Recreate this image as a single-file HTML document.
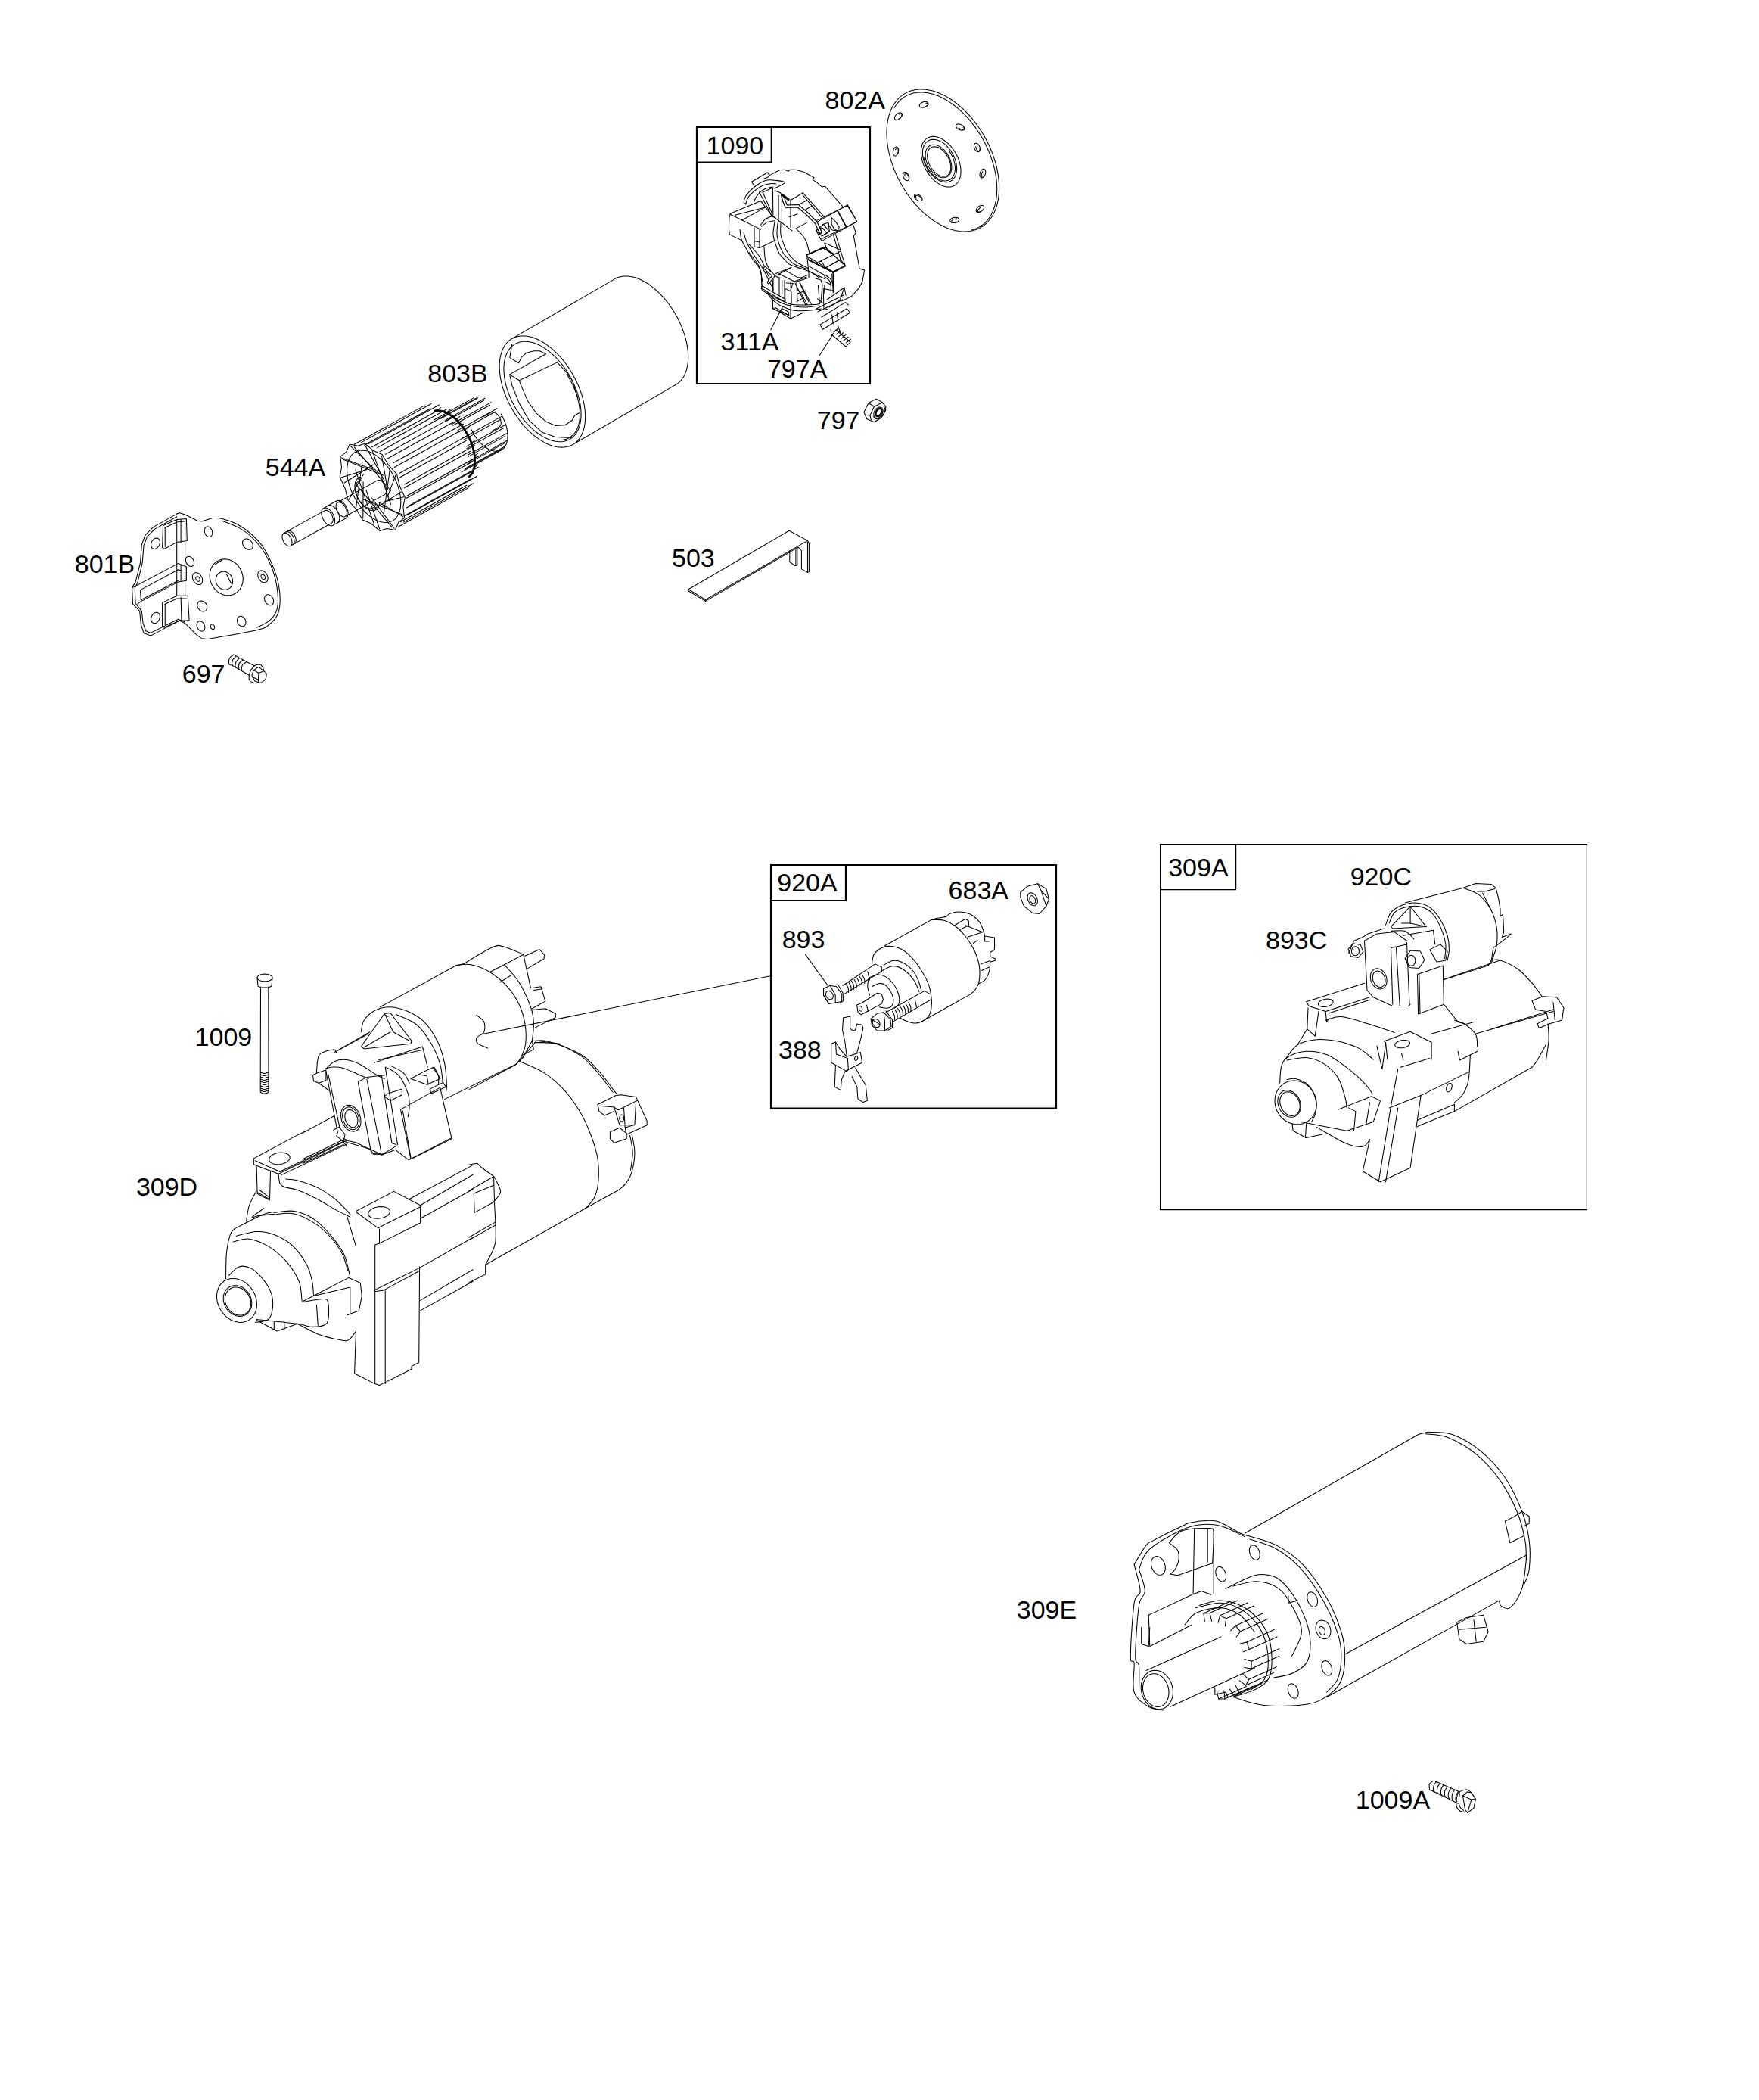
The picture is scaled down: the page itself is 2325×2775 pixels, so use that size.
<!DOCTYPE html>
<html><head><meta charset="utf-8"><style>
html,body{margin:0;padding:0;background:#fff;}
svg{display:block;}
text{font-family:"Liberation Sans",sans-serif;font-size:34px;fill:#000;}
.l{fill:none;stroke:#000;stroke-width:1.05;stroke-linejoin:round;stroke-linecap:round;}
.b{fill:none;stroke:#000;stroke-width:2.2;}
.t{fill:none;stroke:#000;stroke-width:1.2;}
</style></head><body>
<svg width="2325" height="2775" viewBox="0 0 2325 2775">
<text x="1090.5" y="144">802A</text>
<text x="933.6" y="204">1090</text>
<text x="952.6" y="463">311A</text>
<text x="1013.9" y="499">797A</text>
<text x="1079.8" y="567">797</text>
<text x="565.3" y="505">803B</text>
<text x="350.8" y="629">544A</text>
<text x="98.8" y="757">801B</text>
<text x="240.8" y="901.5">697</text>
<text x="888" y="749">503</text>
<text x="1027.3" y="1178">920A</text>
<text x="1253.6" y="1188">683A</text>
<text x="1033.7" y="1253">893</text>
<text x="1029" y="1399">388</text>
<text x="257.6" y="1382">1009</text>
<text x="179.9" y="1580">309D</text>
<text x="1544.2" y="1158">309A</text>
<text x="1784.7" y="1170">920C</text>
<text x="1673" y="1254">893C</text>
<text x="1343.8" y="2139">309E</text>
<text x="1791.8" y="2390">1009A</text>
<path class="b" d="M921 168H1150V507H921Z M921 214.6H1019.8V168"/>
<path class="b" d="M1019 1143H1396V1464.5H1019Z M1019 1190H1118V1143"/>
<path class="t" d="M1533.6 1115.6H2097.4V1598.6H1533.6Z M1533.6 1175.6H1633.6V1115.6"/>
<!-- 10_802A.svg -->
<path class="l" d="M1295.9 300.8 1293.7 301.9 1291.4 302.9 1289 303.8 1286.6 304.5 1284.1 305.1 1281.5 305.6 1278.9 305.8 1276.3 306 1273.5 306 1270.8 305.8 1268 305.5 1265.2 305.1 1262.3 304.5 1259.4 303.8 1256.5 302.9 1253.6 301.9 1250.7 300.7 1247.8 299.4 1244.8 298 1241.9 296.4 1239 294.7 1236 292.9 1233.1 291 1230.3 288.9 1227.4 286.7 1224.6 284.4 1221.8 281.9 1219 279.4 1216.3 276.8 1213.7 274 1211 271.2 1208.5 268.3 1206 265.2 1203.6 262.1 1201.2 259 1198.9 255.7 1196.7 252.4 1194.5 249 1192.5 245.5 1190.5 242.1 1188.6 238.5 1186.8 234.9 1185.1 231.3 1183.4 227.7 1181.9 224 1180.5 220.3 1179.2 216.6 1178 212.9 1176.9 209.2 1175.9 205.4 1175 201.7 1174.2 198.1 1173.6 194.4 1173 190.8 1172.6 187.2 1172.3 183.6 1172.1 180.1 1172 176.6 1172 173.2 1172.2 169.8 1172.4 166.6 1172.8 163.3 1173.3 160.2 1173.9 157.1 1174.6 154.2 1175.4 151.3 1176.4 148.5 1177.4 145.8 1178.6 143.2 1179.8 140.7 1181.2 138.4 1182.7 136.1 1184.3 134 1185.9 132 1187.7 130.1 1189.5 128.3 1191.5 126.7 1193.5 125.2 1195.6 123.9 1197.8 122.6 1200.1 121.5 1202.4 120.6 1204.8 119.8 1207.3 119.2 1209.8 118.6 1212.4 118.3 1215 118.1 1217.7 118 1220.4 118.1 1223.2 118.3 1226 118.7 1228.9 119.2 1231.7 119.8 1234.6 120.6 1237.5 121.6 1240.4 122.7 1243.4 123.9 1246.3 125.3 1249.3 126.8 1252.2 128.4 1255.1 130.2 1258 132 1260.9 134.1 1263.8 136.2 1266.6 138.5 1269.4 140.8 1272.2 143.3 1274.9 145.9 1277.6 148.6 1280.3 151.4 1282.8 154.3 1285.4 157.2 1287.8 160.3 1290.2 163.4 1292.6 166.7 1294.8 170 1297 173.3 1299.1 176.7 1301.2 180.2 1303.1 183.7 1304.9 187.3 1306.7 190.9 1308.4 194.5 1309.9 198.2 1311.4 201.9 1312.8 205.6 1314 209.3 1315.2 213 1316.2 216.7 1317.2 220.4 1318 224.1 1318.7 227.8 1319.3 231.4 1319.8 235 1320.2 238.6 1320.5 242.2 1320.6 245.7 1320.6 249.1 1320.5 252.5 1320.3 255.8 1320 259.1 1319.6 262.2 1319 265.3 1318.4 268.4 1317.6 271.3 1316.7 274.1 1315.7 276.9 1314.6 279.5 1313.4 282 1312.1 284.5 1310.7 286.8 1309.1 289 1307.5 291 1305.8 293 1304 294.8 1302.1 296.5 1300.1 298.1 1298.1 299.5 1295.9 300.8Z"/>
<path class="l" d="M1182.1 142.3 1183.6 140 1185.1 137.8 1186.7 135.8 1188.4 133.9 1190.2 132.1 1192.1 130.5 1194.1 129 1196.2 127.6 1198.3 126.4 1200.6 125.3 1202.9 124.4 1205.3 123.6 1207.7 123 1210.2 122.5 1212.8 122.2 1215.4 122 1218.1 122 1220.8 122.1 1223.6 122.4 1226.4 122.8 1229.2 123.4 1232.1 124.1 1235 125 1237.9 126 1240.8 127.1 1243.7 128.5 1246.7 129.9 1249.6 131.5 1252.5 133.2 1255.4 135.1 1258.3 137.1 1261.2 139.2 1264 141.4 1266.8 143.8 1269.6 146.3 1272.4 148.8 1275.1 151.5 1277.7 154.3 1280.3 157.2 1282.8 160.2 1285.3 163.3 1287.7 166.4 1290.1 169.7 1292.3 173 1294.5 176.4 1296.7 179.8 1298.7 183.3 1300.6 186.8 1302.5 190.4 1304.2 194 1305.9 197.7 1307.4 201.4 1308.9 205.1 1310.2 208.8 1311.5 212.5 1312.6 216.3 1313.6 220 1314.6 223.7 1315.4 227.4 1316 231.1 1316.6 234.7 1317.1 238.3 1317.4 241.9 1317.6 245.4 1317.7 248.9 1317.7 252.3 1317.5 255.6 1317.2 258.9 1316.9 262.1 1316.4 265.2 1315.7 268.2 1315 271.2 1314.2 274 1313.2 276.8 1312.1 279.4 1310.9 282 1309.7 284.4 1308.3 286.7 1306.8 288.9 1305.2 290.9 1303.5 292.8 1301.7 294.6 1299.8 296.3 1297.8 297.8 1295.7 299.2 1293.6 300.4 1291.3 301.5 1289 302.5 1286.7 303.3 1284.2 303.9"/>
<path class="l" d="M1261.3 245.2 1259 246.2 1256.5 246.9 1253.8 247.1 1251 246.9 1248.2 246.2 1245.2 245.2 1242.3 243.7 1239.3 241.9 1236.4 239.8 1233.6 237.3 1231 234.5 1228.5 231.4 1226.2 228.1 1224.1 224.7 1222.2 221.1 1220.6 217.4 1219.3 213.7 1218.4 209.9 1217.7 206.2 1217.4 202.6 1217.4 199.2 1217.7 195.9 1218.3 192.9 1219.3 190.1 1220.6 187.6 1222.2 185.4 1224 183.6 1226.1 182.2 1228.4 181.2 1230.9 180.5 1233.6 180.3 1236.4 180.5 1239.2 181.2 1242.2 182.2 1245.1 183.7 1248.1 185.5 1251 187.6 1253.8 190.1 1256.4 192.9 1258.9 196 1261.2 199.3 1263.3 202.7 1265.2 206.3 1266.8 210 1268.1 213.7 1269 217.5 1269.7 221.2 1270 224.8 1270 228.2 1269.7 231.5 1269.1 234.5 1268.1 237.3 1266.8 239.8 1265.2 242 1263.4 243.8 1261.3 245.2Z"/>
<path class="l" d="M1256.9 239.1 1254.5 240.2 1251.9 240.7 1249.1 240.7 1246.1 240.3 1243.1 239.3 1240.1 237.8 1237.1 236 1234.2 233.6 1231.5 230.9 1228.9 227.9 1226.6 224.6 1224.5 221.1 1222.7 217.5 1221.3 213.7 1220.3 209.9 1219.6 206.2 1219.4 202.6 1219.5 199.1 1220.1 195.9 1221 193 1222.4 190.5 1224 188.3 1226 186.6 1228.3 185.3 1230.8 184.5 1233.5 184.2 1236.4 184.4 1239.4 185.2 1242.4 186.4 1245.4 188 1248.3 190.2 1251.2 192.7 1253.8 195.5 1256.3 198.7 1258.5 202.1 1260.4 205.7 1262 209.4 1263.2 213.2 1264.1 217 1264.5 220.6 1264.6 224.2 1264.2 227.5 1263.5 230.6 1262.3 233.3 1260.8 235.7 1259 237.6 1256.9 239.1Z"/>
<path class="l" d="M1254.6 199.5 1256.8 202.9 1258.6 206.5 1260.2 210.2 1261.3 214 1262.1 217.7 1262.5 221.3 1262.4 224.7 1261.9 227.9 1261 230.8 1259.7 233.3 1258 235.4 1256 237 1253.7 238.2 1251.2 238.8 1248.4 238.9 1245.6 238.4 1242.6 237.4 1239.6 236 1236.7 234 1233.8 231.6 1231.1 228.9 1228.7 225.8 1226.4 222.4 1224.5 218.8 1222.9 215.1 1221.7 211.4 1220.9 207.7"/>
<path class="l" d="M1252 233.5 1249.5 234.5 1246.8 234.8 1243.9 234.4 1240.9 233.4 1237.8 231.8 1234.9 229.6 1232.1 226.9 1229.6 223.8 1227.4 220.3 1225.6 216.6 1224.3 212.9 1223.4 209.1 1223.1 205.4 1223.3 202 1224 198.9 1225.2 196.2 1226.9 194.1 1229 192.5 1231.5 191.5 1234.2 191.2 1237.1 191.6 1240.1 192.6 1243.2 194.2 1246.1 196.4 1248.9 199.1 1251.4 202.2 1253.6 205.7 1255.4 209.4 1256.7 213.1 1257.6 216.9 1257.9 220.6 1257.7 224 1257 227.1 1255.8 229.8 1254.1 231.9 1252 233.5Z"/>
<path class="l" d="M1251.7 232.3 1249.3 233.1 1246.7 233.3 1243.8 232.8 1240.8 231.5 1237.9 229.6 1235.1 227.2 1232.5 224.2 1230.2 220.8 1228.3 217.2 1226.9 213.4 1226 209.7 1225.6 206.1 1225.8 202.7 1226.6 199.8 1227.9 197.3 1229.7 195.4 1231.9 194.2 1234.4 193.7 1237.2 193.9 1240.1 194.8 1243 196.3 1245.9 198.5 1248.7 201.3 1251.1 204.5 1253.2 208 1254.9 211.7 1256 215.4 1256.7 219.1 1256.7 222.6 1256.3 225.8 1255.2 228.5 1253.7 230.7 1251.7 232.3Z"/>
<path class="l" d="M1226.8 136.4 1226.9 137.3 1226.6 138.3 1225.9 139.3 1224.9 140.3 1223.7 141.1 1222.3 141.7 1220.8 142.1 1219.3 142.2 1217.9 142.1 1216.8 141.7 1215.9 141.1 1215.4 140.2 1215.3 139.3 1215.6 138.3 1216.3 137.3 1217.3 136.3 1218.5 135.5 1219.9 134.9 1221.4 134.5 1222.9 134.4 1224.3 134.5 1225.4 134.9 1226.3 135.5 1226.8 136.4Z"/>
<path class="l" d="M1223.8 136.2 1224.9 136.2 1225.8 136.4 1226.5 136.7 1226.8 137.2 1226.9 137.8 1226.6 138.4 1225.9 139.1 1225.1 139.8 1224 140.4 1222.8 140.9 1221.6 141.2 1220.4 141.4"/>
<path class="l" d="M1191.6 149.4 1192.1 150.2 1192.3 151.3 1192.2 152.5 1191.7 153.8 1191 155 1190 156.2 1188.8 157.2 1187.5 158 1186.2 158.5 1185 158.7 1184 158.5 1183.2 158 1182.7 157.2 1182.5 156.1 1182.6 154.9 1183.1 153.6 1183.8 152.4 1184.8 151.2 1186 150.2 1187.3 149.4 1188.6 148.9 1189.8 148.7 1190.8 148.9 1191.6 149.4Z"/>
<path class="l" d="M1188.8 151.1 1189.8 150.6 1190.7 150.3 1191.4 150.4 1191.9 150.6 1192.2 151.2 1192.2 151.9 1192 152.8 1191.5 153.8 1190.8 154.8 1190 155.7 1189 156.6 1188 157.3"/>
<path class="l" d="M1274.4 170.8 1273.8 171.5 1272.9 172 1271.7 172.2 1270.3 172.1 1268.9 171.8 1267.4 171.2 1266.1 170.4 1265 169.4 1264.2 168.3 1263.7 167.2 1263.5 166.2 1263.8 165.2 1264.4 164.5 1265.3 164 1266.5 163.8 1267.9 163.9 1269.3 164.2 1270.8 164.8 1272.1 165.6 1273.2 166.6 1274 167.7 1274.5 168.8 1274.7 169.8 1274.4 170.8Z"/>
<path class="l" d="M1273.2 168 1274 168.7 1274.5 169.5 1274.7 170.2 1274.5 170.8 1274.1 171.2 1273.4 171.5 1272.5 171.5 1271.4 171.3 1270.3 171 1269.1 170.5 1268 169.8 1267 169"/>
<path class="l" d="M1185.1 194.1 1186 194.5 1186.8 195.2 1187.3 196.3 1187.6 197.6 1187.7 199.1 1187.5 200.7 1187.1 202.2 1186.5 203.5 1185.7 204.6 1184.8 205.4 1183.8 205.9 1182.9 205.9 1182 205.5 1181.2 204.8 1180.7 203.7 1180.4 202.4 1180.3 200.9 1180.5 199.3 1180.9 197.8 1181.5 196.5 1182.3 195.4 1183.2 194.6 1184.2 194.1 1185.1 194.1Z"/>
<path class="l" d="M1183.6 197.7 1184.1 196.7 1184.7 196 1185.4 195.6 1185.9 195.6 1186.5 195.9 1186.9 196.5 1187.2 197.3 1187.3 198.4 1187.3 199.6 1187.2 200.9 1186.8 202.2 1186.4 203.3"/>
<path class="l" d="M1293.5 200.5 1292.6 200.6 1291.6 200.4 1290.5 199.8 1289.5 198.8 1288.7 197.6 1288 196.2 1287.6 194.7 1287.4 193.2 1287.5 191.8 1287.9 190.7 1288.5 189.8 1289.3 189.3 1290.2 189.2 1291.2 189.4 1292.3 190 1293.3 191 1294.1 192.2 1294.8 193.6 1295.2 195.1 1295.4 196.6 1295.3 198 1294.9 199.1 1294.3 200 1293.5 200.5Z"/>
<path class="l" d="M1295.1 197.1 1295.1 198.2 1295 199.1 1294.6 199.7 1294.2 200.1 1293.6 200.1 1292.9 199.8 1292.2 199.3 1291.5 198.4 1290.9 197.4 1290.3 196.2 1290 194.9 1289.7 193.7"/>
<path class="l" d="M1195.3 227.6 1196.2 227.4 1197.3 227.6 1198.3 228.2 1199.4 229.1 1200.3 230.3 1201 231.7 1201.5 233.1 1201.8 234.6 1201.7 236 1201.4 237.1 1200.9 238 1200.1 238.6 1199.2 238.8 1198.1 238.6 1197.1 238 1196 237.1 1195.1 235.9 1194.4 234.5 1193.9 233.1 1193.6 231.6 1193.7 230.2 1194 229.1 1194.5 228.2 1195.3 227.6Z"/>
<path class="l" d="M1196 232.1 1195.9 231 1196 230.1 1196.3 229.4 1196.7 229 1197.3 228.9 1198 229.2 1198.7 229.7 1199.5 230.5 1200.1 231.6 1200.7 232.7 1201.2 233.9 1201.4 235.1"/>
<path class="l" d="M1297 234.8 1296.2 234.3 1295.6 233.5 1295.2 232.3 1295 231 1295.1 229.5 1295.5 228 1296.1 226.5 1296.9 225.3 1297.8 224.3 1298.8 223.6 1299.8 223.3 1300.8 223.4 1301.6 223.9 1302.2 224.7 1302.6 225.9 1302.8 227.2 1302.7 228.7 1302.3 230.2 1301.7 231.7 1300.9 232.9 1300 233.9 1299 234.6 1298 234.9 1297 234.8Z"/>
<path class="l" d="M1300.9 232.6 1300.3 233.4 1299.6 234.1 1298.9 234.4 1298.4 234.4 1297.9 234 1297.5 233.4 1297.3 232.5 1297.3 231.4 1297.5 230.2 1297.8 228.9 1298.3 227.7 1298.9 226.6"/>
<path class="l" d="M1208.7 257.8 1209.4 257.1 1210.4 256.7 1211.6 256.6 1212.9 256.8 1214.3 257.3 1215.7 258.1 1216.9 259.1 1217.9 260.2 1218.6 261.3 1219 262.5 1219 263.5 1218.7 264.4 1218 265.1 1217 265.5 1215.8 265.6 1214.5 265.4 1213.1 264.9 1211.7 264.1 1210.5 263.1 1209.5 262 1208.8 260.9 1208.4 259.7 1208.4 258.7 1208.7 257.8Z"/>
<path class="l" d="M1211.6 261.8 1210.9 260.9 1210.5 260.1 1210.4 259.4 1210.5 258.8 1211 258.5 1211.7 258.3 1212.6 258.3 1213.7 258.6 1214.8 259.1 1215.9 259.8 1217 260.5 1217.8 261.4"/>
<path class="l" d="M1290.6 279.7 1290.2 278.8 1290.2 277.7 1290.5 276.6 1291.1 275.4 1292.1 274.2 1293.2 273.1 1294.5 272.3 1295.9 271.7 1297.2 271.4 1298.4 271.4 1299.4 271.7 1300.2 272.3 1300.6 273.2 1300.6 274.3 1300.3 275.4 1299.7 276.6 1298.7 277.8 1297.6 278.9 1296.3 279.7 1294.9 280.3 1293.6 280.6 1292.4 280.6 1291.4 280.3 1290.6 279.7Z"/>
<path class="l" d="M1295.6 279.5 1294.5 279.9 1293.6 280 1292.9 279.9 1292.4 279.5 1292.2 279 1292.3 278.3 1292.6 277.4 1293.3 276.5 1294.1 275.6 1295.1 274.8 1296.1 274 1297.2 273.5"/>
<path class="l" d="M1255.8 292 1255.8 291.1 1256.3 290.1 1257 289.2 1258.2 288.4 1259.5 287.8 1261 287.4 1262.6 287.2 1264 287.3 1265.4 287.6 1266.5 288.1 1267.2 288.9 1267.6 289.8 1267.6 290.7 1267.1 291.7 1266.4 292.6 1265.2 293.4 1263.9 294 1262.4 294.4 1260.8 294.6 1259.4 294.5 1258 294.2 1256.9 293.7 1256.2 292.9 1255.8 292Z"/>
<path class="l" d="M1260.6 293.7 1259.5 293.6 1258.7 293.3 1258.1 292.9 1257.8 292.4 1257.9 291.8 1258.2 291.1 1258.9 290.6 1259.9 290 1261 289.6 1262.3 289.2 1263.6 289.1 1264.8 289.1"/>
<!-- 11_803B.svg -->
<path class="l" d="M757.1 587.5 755.1 588.5 752.9 589.4 750.7 590.1 748.4 590.6 746 591 743.5 591.1 741 591.1 738.4 590.9 735.8 590.5 733.1 590 730.3 589.2 727.6 588.3 724.8 587.2 722 585.9 719.1 584.4 716.3 582.8 713.5 581.1 710.7 579.1 707.9 577 705.1 574.8 702.3 572.4 699.6 569.9 696.9 567.3 694.3 564.5 691.7 561.6 689.2 558.6 686.8 555.5 684.4 552.3 682.2 549.1 680 545.7 677.9 542.3 675.9 538.8 674 535.2 672.2 531.7 670.5 528 668.9 524.4 667.5 520.7 666.1 517.1 664.9 513.4 663.8 509.7 662.9 506.1 662.1 502.5 661.4 498.9 660.9 495.4 660.5 491.9 660.3 488.5 660.1 485.1 660.2 481.9 660.3 478.7 660.7 475.6 661.1 472.7 661.7 469.8 662.4 467.1 663.3 464.5 664.3 462 665.4 459.6 666.7 457.4 668 455.4 669.5 453.5 671.2 451.8 672.9 450.2 674.7 448.8 676.7 447.5 678.7 446.5 680.9 445.6 683.1 444.9 685.4 444.4 687.8 444 690.3 443.9 692.8 443.9 695.4 444.1 698 444.5 700.7 445 703.5 445.8 706.2 446.7 709 447.8 711.8 449.1 714.7 450.6 717.5 452.2 720.3 453.9 723.1 455.9 725.9 458 728.7 460.2 731.5 462.6 734.2 465.1 736.9 467.7 739.5 470.5 742.1 473.4 744.6 476.4 747 479.5 749.4 482.7 751.6 485.9 753.8 489.3 755.9 492.7 757.9 496.2 759.8 499.8 761.6 503.3 763.3 507 764.9 510.6 766.3 514.3 767.7 517.9 768.9 521.6 770 525.3 770.9 528.9 771.7 532.5 772.4 536.1 772.9 539.6 773.3 543.1 773.5 546.5 773.7 549.9 773.6 553.1 773.5 556.3 773.1 559.4 772.7 562.3 772.1 565.2 771.4 567.9 770.5 570.5 769.5 573 768.4 575.4 767.1 577.6 765.8 579.6 764.3 581.5 762.6 583.2 760.9 584.8 759.1 586.2 757.1 587.5Z M812.6 368.6 814.6 367.5 816.7 366.6 819 365.9 821.3 365.4 823.7 365 826.1 364.9 828.7 364.9 831.3 365.1 833.9 365.5 836.6 366 839.3 366.8 842.1 367.7 844.9 368.8 847.7 370 850.5 371.5 853.3 373.1 856.2 374.8 859 376.8 861.8 378.9 864.6 381.1 867.3 383.5 870.1 386 872.7 388.6 875.4 391.4 877.9 394.2 880.4 397.2 882.9 400.3 885.2 403.5 887.5 406.8 889.7 410.1 891.8 413.6 893.8 417 895.8 420.6 897.6 424.2 899.2 427.8 900.8 431.4 902.3 435.1 903.6 438.8 904.8 442.4 905.9 446.1 906.8 449.7 907.7 453.4 908.3 456.9 908.9 460.5 909.3 463.9 909.5 467.4 909.7 470.7 909.6 474 909.5 477.1 909.2 480.2 908.7 483.2 908.1 486 907.4 488.8 906.6 491.4 905.6 493.9 904.5 496.2 903.2 498.5 901.8 500.5 900.3 502.4 898.7 504.2 897 505.7 895.2 507.2 893.2 508.4 M676.6 447.6 L812.6 368.6 M757.2 587.4 L893.2 508.4"/>
<path class="l" d="M753.2 580.4 751.1 581.5 749 582.3 746.8 583 744.4 583.4 742 583.7 739.5 583.8 737 583.6 734.3 583.3 731.7 582.7 728.9 582 726.2 581 723.4 579.9 720.6 578.6 717.8 577.1 715 575.4 712.2 573.5 709.4 571.5 706.6 569.3 703.9 566.9 701.2 564.4 698.5 561.8 695.9 559 693.4 556.1 690.9 553.1 688.5 549.9 686.2 546.7 684 543.4 681.9 540 680 536.5 678.1 533 676.3 529.4 674.7 525.8 673.2 522.2 671.8 518.5 670.5 514.9 669.4 511.2 668.5 507.6 667.7 504 667 500.4 666.5 496.9 666.2 493.5 666 490.1 665.9 486.8 666 483.7 666.3 480.6 666.7 477.6 667.3 474.7 668 472 668.9 469.4 669.9 467 671.1 464.7 672.4 462.6 673.8 460.6 675.4 458.8 677.1 457.2 678.9 455.8 680.8 454.6 682.9 453.5 685 452.7 687.2 452 689.6 451.6 692 451.3 694.5 451.2 697 451.4 699.7 451.7 702.3 452.3 705.1 453 707.8 454 710.6 455.1 713.4 456.4 716.2 457.9 719 459.6 721.8 461.5 724.6 463.5 727.4 465.7 730.1 468.1 732.8 470.6 735.5 473.2 738.1 476 740.6 478.9 743.1 481.9 745.5 485.1 747.8 488.3 750 491.6 752.1 495 754 498.5 755.9 502 757.7 505.6 759.3 509.2 760.8 512.8 762.2 516.5 763.5 520.1 764.6 523.8 765.5 527.4 766.3 531 767 534.6 767.5 538.1 767.8 541.5 768 544.9 768.1 548.2 768 551.3 767.7 554.4 767.3 557.4 766.7 560.3 766 563 765.1 565.6 764.1 568 762.9 570.3 761.6 572.4 760.2 574.4 758.6 576.2 756.9 577.8 755.1 579.2 753.2 580.4Z"/>
<path class="l" d="M749.2 494.5 751.3 497.9 753.3 501.4 755.2 505 757 508.6 758.6 512.2 760.1 515.9 761.5 519.6 762.7 523.3 763.7 527 764.6 530.6 765.3 534.2 765.9 537.7 766.3 541.2 766.5 544.6 766.6 548 766.4 551.2 766.2 554.3 765.7 557.3 765.1 560.1 764.4 562.8 763.4 565.4 762.4 567.8 761.1 570 759.7 572 758.2 573.9 756.5 575.5 754.7 577 752.8 578.3 750.8 579.3 748.6 580.2 746.4 580.8 744 581.3 741.6 581.5 739 581.5"/>
<path class="l" d="M673.7 494.9 721.4 467.8"/>
<path class="l" d="M686.4 502.8 736.5 478.9"/>
<path class="l" d="M673.7 494.9 686.4 502.8"/>
<path class="l" d="M686.4 502.8 688 507.6 697.5 529.9 708.7 545.8 721.4 556.9 734.1 562.5 746.9 561.7 756.4 555.3 759.6 549 766.8 545"/>
<path class="l" d="M676.8 455.1 673.7 472.6 685.6 479.7 688.8 472.6 695.9 466.2 705.5 463.8 713.4 463.8 721.4 467.8"/>
<path class="l" d="M736.5 478.9 748.5 491.7 756.4 502.8 763.6 525.1"/>
<path class="l" d="M673.7 494.9 676.8 509.2 686.4 533.1 699.1 555.3 716.6 571.3 734.1 577.6 754.8 578.4"/>
<!-- 12_1090.svg -->
<path class="l" d="M1017 231.6 1030.5 224.8 1037.3 224.3 1042.1 226.3 1044.1 224.3 1051.8 224.3 1062.4 227.2 1075.9 234.5 1074 237.4 1078.8 240.3 1086.6 247.1 1090.4 246.1 1113.6 272.7"/>
<path class="l" d="M994.3 239.8 1012.2 229.2 1014.6 227.7 1017 231.6 1015.1 234 1010.2 235.9"/>
<path class="l" d="M994.3 239.8 994.3 241.7 996.2 244.2"/>
<path class="l" d="M986.1 269.3 C985.6 269 983.2 269.1 983.2 267.3 C983.2 265.6 984.2 261.7 986.1 258.6 C988 255.6 991.4 252 994.8 249 C998.2 246 1003.2 242.6 1006.4 240.8 C1009.6 238.9 1010.9 238.3 1014.1 237.9 C1017.3 237.5 1021.8 237.8 1025.7 238.4 C1029.6 238.9 1037.6 239.5 1037.3 241.3 C1037 243 1026 247.7 1023.8 249"/>
<path class="l" d="M985.6 270.2 C986.2 268.6 987 263.6 989 260.6 C991 257.5 994.5 254.5 997.7 251.9 C1000.9 249.3 1004.9 246.7 1008.3 245.1 C1011.7 243.6 1015.1 243.1 1018 242.7 C1020.9 242.3 1024.4 242.7 1025.7 242.7"/>
<path class="l" d="M996.7 266.4 C997.4 265.1 998.3 261.4 1000.6 258.6 C1002.8 255.9 1006.7 251.9 1010.2 250 C1013.8 248 1019.9 247.5 1021.8 247.1"/>
<path class="l" d="M1007.8 254.3 1018 249.5 1021.4 248 1021.8 285.7"/>
<path class="l" d="M1003.5 253.8 1019.9 284.7"/>
<path class="l" d="M1008.3 254.3 1020.9 282.8"/>
<path class="l" d="M1029.1 258.2 1029.1 293.4"/>
<path class="l" d="M1033.4 257.7 1033.4 294.4"/>
<path class="l" d="M965.3 282.3 1005.4 265.4 1007.3 265.9"/>
<path class="l" d="M971.6 284.3 1011.2 274.1"/>
<path class="l" d="M980.8 291 1011.2 274.1"/>
<path class="l" d="M965.3 283.3 1005.4 303.1"/>
<path class="l" d="M1005.4 265.4 1019.9 284.7 1033.4 294.4 1047 305"/>
<path class="l" d="M965.3 282.3 963.9 287.6 963.4 302.1 964.3 309.9 980.3 317.6"/>
<path class="l" d="M1046 264 1061.4 254.8"/>
<path class="l" d="M1061.4 254.8 1089.5 286.7"/>
<path class="l" d="M1061.4 258.2 1085.6 286.7"/>
<path class="l" d="M1055.2 270.7 1066.3 264.9"/>
<path class="l" d="M1062.4 278.5 1073 272.2"/>
<path class="l" d="M1045 263.5 1045 300.2"/>
<path class="l" d="M1043.1 286.7 1054.2 282.8"/>
<path class="l" d="M1051.8 302.1 1066.3 294.4"/>
<path class="l" d="M1079.8 293.4 1120.4 270.7"/>
<path class="l" d="M1120.4 270.7 1130 287.6"/>
<path class="l" d="M1106.9 278.9 1118.5 300.2"/>
<path class="l" d="M1085.6 315.7 1130 294.4"/>
<path class="l" d="M1094.3 290.5 1095.3 297.3 1100.1 304.1 1106.9 305"/>
<path class="l" d="M1099.1 287.6 1104.9 293.4 1109.3 300.2 1106.9 305 1102 302.1 1099.1 295.4 1099.1 287.6"/>
<path class="l" d="M1078.8 305 1088.5 296.3 1096.2 306 1086.6 311.8 1078.8 305"/>
<path class="l" d="M1024.7 251.9 1031.5 254.8 1033.4 257.7"/>
<path class="l" d="M1005.4 297.3 1011.2 289.6 1019.9 285.7 1024.7 287.6"/>
<path class="l" d="M1006.4 299.2 1014.1 293.4 1024.7 291.5"/>
<path class="l" d="M1034.4 258.6 1036.3 265.4 1039.2 272.7 1054.7 272.2 1066.3 281.8 1078.8 294.4 1084.6 307" style="stroke:#000;stroke-width:4.5"/>
<path class="l" d="M1034.4 258.6 1036.3 265.4 1039.2 272.7 1054.7 272.2 1066.3 281.8 1078.8 294.4 1084.6 307" style="stroke:#fff;stroke-width:2.2;stroke-dasharray:1.6 1.4"/>
<path class="l" d="M1033.4 257.2 1042.1 263.5" style="stroke-width:3"/>
<path class="l" d="M1024 293 C1023.7 295.8 1021.7 304.7 1022 310 C1022.3 315.3 1024.7 320.8 1026 325 C1027.3 329.2 1028 331.8 1030 335 C1032 338.2 1035.5 341.5 1038 344 C1040.5 346.5 1040 347.7 1045 350 C1050 352.3 1064.2 356.7 1068 358"/>
<path class="l" d="M1028 295 C1027.8 297.5 1026.7 305.3 1027 310 C1027.3 314.7 1028.7 319 1030 323 C1031.3 327 1032.8 330.7 1035 334 C1037.2 337.3 1040.5 340.5 1043 343 C1045.5 345.5 1045.8 346.8 1050 349 C1054.2 351.2 1065 354.8 1068 356"/>
<path class="l" d="M1032 294 C1032 296.7 1031.3 305.2 1032 310 C1032.7 314.8 1034.7 319.3 1036 323 C1037.3 326.7 1038.2 329 1040 332 C1041.8 335 1044.7 338.5 1047 341 C1049.3 343.5 1050.5 344.8 1054 347 C1057.5 349.2 1065.7 353.2 1068 354.5"/>
<path class="l" d="M1010 326 C1010.3 329.2 1010.3 339.3 1012 345 C1013.7 350.7 1017 356.2 1020 360 C1023 363.8 1028.3 366.7 1030 368"/>
<path class="l" d="M1053 303 C1054.2 304.2 1057.8 307.2 1060 310 C1062.2 312.8 1064.3 315.8 1066 320 C1067.7 324.2 1069.3 332.5 1070 335"/>
<path class="l" d="M1004 303 1004 327.5 1025 317.5"/>
<path class="l" d="M997 301 997 326 1004 327.5"/>
<path class="l" d="M996.5 318.5 1004 320"/>
<path class="l" d="M978 303 C978.3 305.2 978.7 311.8 980 316 C981.3 320.2 983.8 324 986 328 C988.2 332 990.3 336 993 340 C995.7 344 999.8 348.7 1002 352 C1004.2 355.3 1005.2 356 1006 360 C1006.8 364 1006 372.2 1007 376 C1008 379.8 1009.5 380 1012 383 C1014.5 386 1017.8 390.8 1022 394 C1026.2 397.2 1032.3 400.2 1037 402 C1041.7 403.8 1045.2 404.3 1050 405 C1054.8 405.7 1060.5 406.2 1066 406 C1071.5 405.8 1080.2 404.3 1083 404"/>
<path class="l" d="M983 307 C983.7 309.2 985.2 315.7 987 320 C988.8 324.3 991.2 328.3 994 333 C996.8 337.7 1001.3 343.8 1004 348 C1006.7 352.2 1008 354.3 1010 358 C1012 361.7 1014 366 1016 370 C1018 374 1021 380 1022 382"/>
<path class="l" d="M1007 376 C1007.5 376.7 1007.5 377.7 1010 380 C1012.5 382.3 1017.5 386.8 1022 390 C1026.5 393.2 1034.5 397.5 1037 399"/>
<path class="l" d="M1021 394 1021.5 407 1045 421 1062 413"/>
<path class="l" d="M1024 406 1043 417 1042 412 1034 408"/>
<path class="l" d="M1045 400 1045 421"/>
<path class="l" d="M1066.5 336.5 1091 327 1117 351 1101 359 1069 340"/>
<path class="l" d="M1066.5 336.5 1069 360 1069 367"/>
<path class="l" d="M1069 344 1101 360"/>
<path class="l" d="M1083.5 345.5 1111 332"/>
<path class="l" d="M1090 321 1110 330"/>
<path class="l" d="M1101 359 1102 386"/>
<path class="l" d="M1028 363 1045 354"/>
<path class="l" d="M1030 362 1050 372 1066 366"/>
<path class="l" d="M1022 364 1022 390"/>
<path class="l" d="M1030 366 1030 395"/>
<path class="l" d="M1037 370 1037 398"/>
<path class="l" d="M1045 372 1046 400"/>
<path class="l" d="M1053 372 1054 398"/>
<path class="l" d="M1057 374 1069 399"/>
<path class="l" d="M1051 374 1065 403"/>
<path class="l" d="M1054 388 1065 384"/>
<path class="l" d="M1078 368 1085 370 1087 376 1085 400"/>
<path class="l" d="M1090 376 1089 388"/>
<path class="l" d="M1093 396 1116 380 1110 397 1096 406"/>
<path class="l" d="M1116 380 1118 390"/>
<path class="l" d="M1079 408 1115 390"/>
<path class="l" d="M1081 412 1114 396"/>
<path class="l" d="M1090 372 1098 376"/>
<path class="l" d="M1127.2 295.9 1131.2 307.2 1128.4 312.1 1136.1 355 1142.6 357 1140.1 371.2 1135.3 380.9 1125.5 391.5 1112.6 397.9"/>
<path class="l" d="M1101.3 309.7 1111 342.9 1117.4 351.8 1101.3 359.9 1068.9 342.9 1066.4 336.4 1086.7 327.5 1101.3 334.8"/>
<path class="l" d="M1104.5 309.7 1117.4 351.8"/>
<path class="l" d="M1081.8 346.1 1085.9 345.3 1091.5 354.2"/>
<path class="l" d="M1090.7 354.2 1111 342.9"/>
<path class="l" d="M1089.9 321.8 1094 331.5 1098.8 334.8"/>
<path class="l" d="M1068.9 358.3 1090.7 368.8"/>
<path class="l" d="M1099.6 362.3 1101.3 386.6"/>
<path class="l" d="M1089.9 381.7 1098.8 383.4"/>
<path class="l" d="M1080.2 394.7 1086.7 399.6"/>
<path class="l" d="M1083.8 429.1 1119.5 407.7 1123.5 413.3 1087.5 435.2 1083.8 429.1"/>
<path class="l" d="M1085.9 419 1117.4 399.6 1121.5 402.8"/>
<path class="l" d="M1106.1 412.5 1107.7 423.8"/>
<path class="l" d="M1099.6 415.7 1101.3 427.9"/>
<path class="l" d="M1098 435.2 1098.8 440"/>
<path class="l" d="M1107.7 431.1 1111 440"/>
<path class="l" d="M1078.6 291.9 1119.9 271.6 1132.8 292.7 1085.9 318.6 1078.6 304 1078.6 291.9"/>
<path class="l" d="M1107.7 278.9 1119.1 300"/>
<path class="l" d="M1078.6 304 1086.7 300.8 1093.2 308.1 1085.9 312.1"/>
<path class="l" d="M1086.7 296.7 1094.8 294.3 1096.4 305.6"/>
<path class="l" d="M1105 436 1124 452 1118 458 1099 442"/>
<path class="l" d="M1102 439 L1108 434"/>
<path class="l" d="M1105.3 441.8 L1111.3 436.8"/>
<path class="l" d="M1108.6 444.6 L1114.6 439.6"/>
<path class="l" d="M1111.9 447.4 L1117.9 442.4"/>
<path class="l" d="M1115.2 450.2 L1121.2 445.2"/>
<path class="l" d="M1118.5 453 L1124.5 448"/>
<path class="l" d="M1018.9 435.5L1034.5 405.2"/>
<path class="l" d="M1083 470L1102 440"/>
<!-- 13_544A.svg -->
<path class="l" d="M384 721.4 382.6 721.8 381 721.5 379.3 720.7 377.6 719.4 376 717.6 374.7 715.5 373.7 713.3 373.1 711 373 708.9 373.2 707 374 705.6 375 704.6 376.4 704.2 378 704.5 379.7 705.3 381.4 706.6 383 708.4 384.3 710.5 385.3 712.7 385.9 715 386 717.1 385.8 719 385 720.4 384 721.4Z M429.2 674.6 430.8 674.2 432.5 674.5 434.4 675.5 436.2 677.1 437.8 679.1 439.1 681.5 439.9 684 440.3 686.4 440.1 688.5 439.4 690.2 438.3 691.3 M375 704.6 L429.2 674.6 M384 721.4 L438.3 691.3"/>
<path class="l" d="M378.1 702.9 379.5 702.5 381.1 702.8 382.8 703.6 384.5 704.9 386 706.7 387.3 708.8 388.3 711 388.9 713.3 389.1 715.4 388.8 717.3 388.1 718.7 387 719.7"/>
<path class="l" d="M380.3 701.7 381.7 701.3 383.3 701.6 385 702.4 386.7 703.7 388.2 705.5 389.5 707.5 390.5 709.8 391.1 712.1 391.3 714.2 391 716.1 390.3 717.5 389.2 718.5"/>
<path class="l" d="M439.9 694.4 438 694.9 435.8 694.6 433.4 693.5 431.1 691.7 429 689.3 427.2 686.4 425.9 683.3 425 680.2 424.8 677.3 425.2 674.7 426.2 672.7 427.6 671.5 429.5 670.9 431.7 671.3 434.1 672.4 436.4 674.2 438.5 676.6 440.3 679.5 441.6 682.5 442.5 685.7 442.7 688.6 442.3 691.1 441.3 693.1 439.9 694.4Z M445.1 661.8 447.2 661.2 449.6 661.7 452.1 663 454.6 665.2 456.8 668 458.5 671.3 459.7 674.7 460.2 678 459.9 680.9 459 683.2 457.4 684.7 M427.6 671.5 L445.1 661.8 M439.9 694.4 L457.4 684.7"/>
<path class="l" d="M433.8 668.1 435.7 667.5 437.9 667.9 440.2 669 442.5 670.8 444.6 673.2 446.4 676.1 447.8 679.1 448.6 682.3 448.8 685.2 448.4 687.7 447.5 689.7 446 691"/>
<path class="l" d="M456.2 682.5 454.6 682.9 452.9 682.7 451 681.8 449.1 680.3 447.4 678.3 446 676 444.9 673.5 444.2 671 444 668.7 444.3 666.6 445.1 665 446.3 664 447.9 663.5 449.6 663.8 451.5 664.7 453.4 666.2 455.1 668.1 456.5 670.4 457.6 672.9 458.3 675.4 458.5 677.8 458.2 679.9 457.4 681.5 456.2 682.5Z M498.8 634.9 500.4 634.4 502.4 634.8 504.4 635.9 506.4 637.7 508.2 639.9 509.6 642.6 510.6 645.3 511 648 510.8 650.3 510 652.2 508.7 653.4 M446.3 664 L498.8 634.9 M456.2 682.5 L508.7 653.4"/>
<path class="l" d="M496.6 666.1 495.5 668.6 494 670.4 492 671.6 489.7 672 487.1 671.7 484.4 670.6 481.7 668.9 479 666.5 476.5 663.7 474.2 660.4 472.4 656.8 471 653.2 470.1 649.5 469.7 646 469.9 642.8 470.6 640 471.8 637.8 473.5 636.2 475.7 635.3 478.1 635.1"/>
<path class="l" d="M501.8 664.6 501.3 667.6 500.3 670.1 498.9 672.1 497.1 673.5 494.9 674.4 492.6 674.7 490 674.3 487.3 673.4 484.5 671.8 481.8 669.7 479.2 667.2 476.7 664.2 474.5 660.9 472.6 657.4 471 653.7 469.9 650 469.2 646.4 468.9 642.9 469.1 639.8 469.8 636.9 470.9 634.5 472.4 632.6 474.3 631.3 476.5 630.5"/>
<path class="l" d="M468.2 587.3 L561 535.9"/>
<path class="l" d="M477.3 584.9 L570 533.5"/>
<path class="l" d="M481.5 588.2 L569 539.7"/>
<path class="l" d="M487.6 586.4 L580.4 535"/>
<path class="l" d="M491.6 590.8 L579.1 542.3"/>
<path class="l" d="M498.7 591.6 L591.4 540.2"/>
<path class="l" d="M502.1 596.8 L589.6 548.3"/>
<path class="l" d="M509.6 600.3 L602.4 548.9"/>
<path class="l" d="M512.2 606 L599.7 557.5"/>
<path class="l" d="M519.7 611.8 L612.4 560.3"/>
<path class="l" d="M521.3 617.5 L608.8 569"/>
<path class="l" d="M528.3 625.3 L621 573.9"/>
<path class="l" d="M528.8 630.8 L616.3 582.3"/>
<path class="l" d="M534.7 640 L627.4 588.5"/>
<path class="l" d="M534.1 644.7 L621.6 596.2"/>
<path class="l" d="M538.6 654.7 L631.3 603.3"/>
<path class="l" d="M536.9 658.5 L624.4 610"/>
<path class="l" d="M539.6 668.6 L632.4 617.2"/>
<path class="l" d="M537 671.2 L624.5 622.7"/>
<path class="l" d="M537.8 680.7 L630.6 629.3"/>
<path class="l" d="M534.3 681.8 L621.8 633.3"/>
<path class="l" d="M533.2 690.1 L626 638.7"/>
<path class="l" d="M529.2 689.7 L616.7 641.2"/>
<path class="l" d="M526.2 696.3 L618.9 644.9"/>
<path class="l" d="M522.3 700.5 511.3 698.4 502.1 701.5 490.8 692 479.3 687 470.6 672.6 459.9 661 456.2 645.6 449.1 630.3 451.5 618 449.9 603.3 457.6 597.4 462.1 587.1 473.1 589.2 482.3 586.1 493.6 595.6 505.1 600.6 513.8 615 524.5 626.6 528.2 642 535.3 657.3 532.9 669.6 534.5 684.3 526.8 690.2 522.3 700.5Z"/>
<path class="l" d="M518.5 688.4 516.4 689.4 514.2 690 511.8 690.4 509.4 690.5 506.8 690.3 504.2 689.8 501.5 689 498.8 688 496.1 686.7 493.3 685.1 490.6 683.2 487.8 681.2 485.1 678.8 482.5 676.3 479.9 673.6 477.4 670.7 475.1 667.6 472.8 664.4 470.7 661 468.7 657.5 466.8 654 465.1 650.3 463.6 646.7 462.3 643 461.2 639.3 460.3 635.6 459.5 632 459 628.4 458.7 624.9 458.6 621.5 458.7 618.3 459.1 615.2 459.6 612.3 460.4 609.5 461.3 607 462.5 604.6 463.8 602.5 465.4 600.7 467.1 599.1 468.9 597.7 471 596.6 473.1 595.9 475.4 595.3 477.8 595.1 480.3 595.2 482.9 595.5 485.5 596.1 488.2 597.1 491 598.2 493.7 599.7 496.5 601.4 499.2 603.4 501.9 605.6 504.6 608 507.2 610.6 509.7 613.5 512.2 616.5 514.5 619.6 516.7 622.9 518.8 626.3 520.7 629.9 522.4 633.4 524 637.1 525.5 640.8 526.7 644.5 527.7 648.2 528.5 651.8 529.2 655.4 529.6 659 529.8 662.4 529.7 665.7 529.5 668.9 529.1 671.9 528.4 674.7 527.6 677.4 526.5 679.8 525.3 682 523.8 684 522.2 685.8 520.4 687.2 518.5 688.4Z"/>
<path class="l" d="M521.2 698.3 L491.4 658"/>
<path class="l" d="M501.8 699.2 L484.1 648.2"/>
<path class="l" d="M479.8 685.3 L480.1 636.8"/>
<path class="l" d="M461.1 660.3 L480.4 626.7"/>
<path class="l" d="M450.8 630.9 L484.9 620.6"/>
<path class="l" d="M451.6 604.9 L492.5 620.2"/>
<path class="l" d="M463.2 589.3 L501 625.6"/>
<path class="l" d="M482.6 588.4 L508.3 635.4"/>
<path class="l" d="M504.6 602.3 L512.3 646.8"/>
<path class="l" d="M523.3 627.3 L512 656.9"/>
<path class="l" d="M533.6 656.7 L507.5 663"/>
<path class="l" d="M532.8 682.7 L499.9 663.4"/>
<path class="l" d="M574.8 542.9 577.2 542.6 579.7 542.6 582.2 542.9 584.9 543.5 587.6 544.4 590.3 545.6 593.1 547.1 595.8 548.8 598.6 550.8 601.3 553 604 555.5 606.6 558.2 609.1 561.1 611.5 564.1 613.8 567.3 615.9 570.7 617.9 574.1 619.8 577.7 621.4 581.3 622.9 585 624.2 588.7 625.3 592.4 626.2 596.1 626.9 599.7 627.4 603.3 627.6 606.7 627.6 610.1 627.4 613.2 627 616.3 626.4 619.1 625.5 621.8 624.4 624.2 623.2 626.4 621.7 628.4 620 630.1" style="stroke-width:2.8"/>
<path class="l" d="M577.4 542.6 L582.4 538.6"/>
<path class="l" d="M589.9 545.4 L594.9 541.4"/>
<path class="l" d="M602.9 554.4 L607.9 550.4"/>
<path class="l" d="M614.5 568.4 L619.5 564.4"/>
<path class="l" d="M623.1 585.4 L628.1 581.4"/>
<path class="l" d="M627.3 602.7 L632.3 598.7"/>
<path class="l" d="M626.6 618 L631.6 614"/>
<path class="l" d="M621.1 629 L626.1 625"/>
<path class="l" d="M573.4 555 L625.9 525.9"/>
<path class="l" d="M580.4 553.4 L632.9 524.3"/>
<path class="l" d="M582.1 553.6 L631.1 526.4"/>
<path class="l" d="M588.4 555.4 L640.9 526.3"/>
<path class="l" d="M590.3 556.3 L639.3 529.2"/>
<path class="l" d="M596.8 560.7 L649.3 531.6"/>
<path class="l" d="M598.6 562.3 L647.6 535.2"/>
<path class="l" d="M604.7 568.9 L657.2 539.8"/>
<path class="l" d="M606.3 571 L655.3 543.8"/>
<path class="l" d="M611.3 579 L663.8 549.9"/>
<path class="l" d="M612.6 581.4 L661.6 554.3"/>
<path class="l" d="M616 590.1 L668.5 561"/>
<path class="l" d="M616.8 592.6 L665.8 565.5"/>
<path class="l" d="M618.3 601.2 L670.8 572.1"/>
<path class="l" d="M618.5 603.6 L667.5 576.4"/>
<path class="l" d="M618 611.1 L670.5 582"/>
<path class="l" d="M617.6 613.1 L666.6 585.9"/>
<path class="l" d="M615.2 618.9 L667.7 589.8"/>
<path class="l" d="M614.2 620.3 L663.2 593.1"/>
<path class="l" d="M610 623.9 L662.5 594.8"/>
<path class="l" d="M662.2 546.9 664.1 550.4 665.9 554.1 667.4 557.8 668.7 561.5 669.7 565.2 670.4 568.9 670.9 572.5 671 575.9 670.9 579.2 670.5 582.2 669.8 585.1 668.9 587.6 667.6 589.9 666.2 591.9 664.4 593.5 662.5 594.8 660.4 595.6 658.1 596.2 655.6 596.3 653.1 596 650.4 595.4 647.6 594.4 644.9 593 642.1 591.3 639.3 589.2 636.6 586.8 634 584.2 631.5 581.3 629.1 578.1 626.9 574.8 624.9 571.3 623.1 567.7"/>
<path class="l" d="M649.5 544.8 651.2 544.4 653.3 544.7 655.4 545.9 657.5 547.7 659.4 550.1 660.9 552.9 661.9 555.8 662.3 558.5 662.1 561 661.3 562.9 659.9 564.2 M639 550.6 L649.5 544.8 M649.4 570 L659.9 564.2"/>
<path class="l" d="M518.1 696.8 L469.8 639.1"/>
<path class="l" d="M494.6 693.2 L469.8 620.9"/>
<path class="l" d="M470.6 670.8 L478.8 611.3"/>
<path class="l" d="M455.2 638 L493.2 614.2"/>
<path class="l" d="M454.4 607.5 L507.6 628.4"/>
<path class="l" d="M468.3 590.8 L516.6 648.5"/>
<path class="l" d="M491.8 594.4 L516.6 666.7"/>
<path class="l" d="M515.8 616.8 L507.6 676.3"/>
<path class="l" d="M531.2 649.6 L493.2 673.4"/>
<path class="l" d="M532 680.1 L478.8 659.2"/>
<!-- 14_801B.svg -->
<path class="l" d="M233.7 679.1 237.3 677.8 244.6 680 261 688.2 266.4 689.1 281 684.5"/>
<path class="l" d="M281 684.5 C283.1 684.7 288.3 684.1 293.7 685.5 C299.2 686.8 307.4 689.4 313.7 692.7 C320.1 696.1 326.2 700.3 331.9 705.5 C337.7 710.6 343.4 716.4 348.3 723.7 C353.1 730.9 357.7 740.9 361 749.1 C364.4 757.3 366.8 764.9 368.3 772.8 C369.8 780.7 370.4 789.8 370.1 796.4 C369.8 803.1 368.9 807.9 366.5 812.8 C364.1 817.7 360.1 822.2 355.6 825.5 C351 828.9 352.8 829.6 339.2 832.8 C325.6 836 284.6 842.7 273.7 844.6"/>
<path class="l" d="M273.7 844.6 266.4 843.7 259.2 838.3 244.6 823.7 237.3 820.1 199.1 840.1 190 836.4 186.4 825.5 184.6 807.3 175.5 798.2 174.6 776.4 179.1 769.1 185.5 743.7 187.3 720 191.8 707.3 202.8 696.4 233.7 679.1"/>
<path class="l" d="M339.2 829.2 C341.6 828 349.7 824.9 353.7 821.9 C357.8 818.9 361.5 815.2 363.8 811 C366 806.7 367.1 802.8 367.4 796.4 C367.7 790.1 366.9 780.5 365.6 772.8 C364.2 765 362.4 757.9 359.2 750 C356 742.2 351.3 732.6 346.5 725.5 C341.6 718.4 335.6 712.1 330.1 707.3 C324.6 702.4 319.8 699.6 313.7 696.4 C307.7 693.2 297 689.6 293.7 688.2"/>
<path class="l" d="M235.5 818.3 199.1 836.4 192.8 833.7 189.1 823.7 187.3 807.3 179.1 797.3 178.2 777.3 181.8 770 188.2 743.7 190 720.9 194.6 709.1 204.6 699.1 233.7 682.7"/>
<path class="l" d="M215.5 694.6 233.7 686.4 246.4 685.5 247.3 714.6 233.7 716.4 217.3 725.5 214.6 723.7 215.5 694.6"/>
<path class="l" d="M218.2 697.3 233.7 690 243.7 689.1"/>
<path class="l" d="M218.2 697.3 218.2 722.8"/>
<path class="l" d="M233.7 686.4 233.7 787.3"/>
<path class="l" d="M244.6 685.5 244.6 787.3"/>
<path class="l" d="M239.1 686.4 239.1 716.4"/>
<path class="l" d="M175.5 776.4 235.5 744.6 246.4 749.1 246.4 767.3 235.5 769.1 186.4 794.6 181.8 798.2"/>
<path class="l" d="M186.4 779.1 235.5 752.8 241 754.6"/>
<path class="l" d="M185.5 780.1 186.4 792.8"/>
<path class="l" d="M186.4 792.8 235.5 767.3"/>
<path class="l" d="M239.1 747.3 239.1 767.3"/>
<path class="l" d="M214.6 796.4 233.7 787.3 248.2 787.3 250.1 820.1 237.3 820.1 217.3 829.2 214.6 827.4 214.6 796.4"/>
<path class="l" d="M218.2 798.2 233.7 791 246.4 791"/>
<path class="l" d="M218.2 798.2 218.2 825.5"/>
<path class="l" d="M239.1 789.2 240 820.1"/>
<path class="l" d="M244.6 821.9 235.5 818.3"/>
<path class="l" d="M318.7 753.7 320.1 757.5 321 761.4 321.3 765.4 320.9 769.3 320 773 318.5 776.4 316.5 779.5 314 782.1 311.1 784.2 307.9 785.7 304.5 786.6 300.9 786.8 297.2 786.4 293.6 785.3 290.2 783.6 287 781.4 284.1 778.6 281.7 775.4 279.7 771.9 278.3 768.1 277.4 764.2 277.1 760.2 277.5 756.3 278.4 752.6 279.9 749.2 281.9 746.1 284.4 743.5 287.3 741.4 290.5 739.9 293.9 739 297.5 738.8 301.2 739.2 304.8 740.3 308.2 742 311.4 744.2 314.3 747 316.7 750.2 318.7 753.7Z"/>
<path class="l" d="M306.4 762.7 307.4 765.7 307.6 768.8 307.1 771.9 305.9 774.6 304 776.9 301.6 778.4 298.8 779.3 295.9 779.3 293 778.5 290.4 776.9 288.1 774.7 286.4 771.9 285.4 768.9 285.2 765.8 285.7 762.7 286.9 760 288.8 757.7 291.2 756.2 294 755.3 296.9 755.3 299.8 756.1 302.4 757.7 304.7 759.9 306.4 762.7Z"/>
<path class="l" d="M284.6 745.5 293.7 740"/>
<path class="l" d="M299.2 758.2 305.5 771"/>
<path class="l" d="M210.5 720.5 209.5 722.2 208.2 723.6 206.8 724.7 205.2 725.2 203.7 725.4 202.3 725 201.1 724.2 200.3 722.9 199.7 721.4 199.6 719.6 199.9 717.7 200.5 715.9 201.5 714.2 202.8 712.8 204.2 711.7 205.8 711.2 207.3 711 208.7 711.4 209.9 712.2 210.7 713.5 211.3 715 211.4 716.8 211.1 718.7 210.5 720.5Z"/>
<path class="l" d="M210.5 818.7 209.5 820.4 208.2 821.8 206.8 822.9 205.2 823.4 203.7 823.6 202.3 823.2 201.1 822.4 200.3 821.1 199.7 819.6 199.6 817.8 199.9 815.9 200.5 814.1 201.5 812.4 202.8 811 204.2 809.9 205.8 809.4 207.3 809.2 208.7 809.6 209.9 810.4 210.7 811.7 211.3 813.2 211.4 815 211.1 816.9 210.5 818.7Z"/>
<path class="l" d="M266.2 761.6 267.1 763.6 267.6 765.7 267.7 767.7 267.3 769.5 266.5 770.9 265.2 772 263.8 772.5 262.1 772.5 260.3 771.9 258.6 770.9 257.1 769.4 255.8 767.6 254.9 765.6 254.4 763.5 254.3 761.5 254.7 759.7 255.5 758.3 256.8 757.2 258.2 756.7 259.9 756.7 261.7 757.3 263.4 758.3 264.9 759.8 266.2 761.6Z"/>
<path class="l" d="M352.6 758.9 353.5 760.9 354 763 354.1 765 353.7 766.8 352.9 768.2 351.6 769.3 350.2 769.8 348.5 769.8 346.7 769.2 345 768.2 343.5 766.7 342.2 764.9 341.3 762.9 340.8 760.8 340.7 758.8 341.1 757 341.9 755.6 343.1 754.5 344.6 754 346.3 754 348.1 754.6 349.8 755.6 351.3 757.1 352.6 758.9Z"/>
<path class="l" d="M280.2 701 280.7 702.8 280.8 704.5 280.5 706.1 279.9 707.5 279 708.6 277.9 709.3 276.6 709.5 275.2 709.3 273.9 708.6 272.6 707.5 271.6 706.1 270.8 704.4 270.3 702.6 270.2 700.9 270.5 699.3 271.1 697.9 272 696.8 273.1 696.1 274.4 695.9 275.8 696.1 277.1 696.8 278.4 697.9 279.4 699.3 280.2 701Z"/>
<path class="l" d="M332 715.2 333.2 717 334 718.8 334.3 720.7 334.2 722.5 333.6 724 332.5 725.2 331.2 726 329.6 726.3 327.8 726.2 326 725.5 324.3 724.4 322.8 723 321.6 721.2 320.8 719.4 320.5 717.5 320.6 715.7 321.2 714.2 322.3 713 323.6 712.2 325.2 711.9 327 712 328.8 712.7 330.5 713.8 332 715.2Z"/>
<path class="l" d="M360.4 790 361.2 791.8 361.6 793.7 361.6 795.4 361.2 797 360.5 798.4 359.4 799.3 358 799.8 356.5 799.8 354.9 799.3 353.4 798.4 352 797.1 350.8 795.5 350 793.8 349.6 791.9 349.6 790.2 350 788.5 350.7 787.2 351.9 786.3 353.2 785.8 354.7 785.8 356.3 786.3 357.9 787.2 359.2 788.5 360.4 790Z"/>
<path class="l" d="M324.2 818.7 324.8 820.4 325 822.2 324.8 823.8 324.3 825.3 323.3 826.5 322.2 827.3 320.8 827.7 319.3 827.7 317.8 827.1 316.4 826.2 315.2 824.9 314.2 823.3 313.6 821.6 313.4 819.8 313.6 818.2 314.1 816.7 315.1 815.5 316.2 814.7 317.6 814.3 319.1 814.3 320.6 814.9 322 815.8 323.2 817.1 324.2 818.7Z"/>
<path class="l" d="M270 825.3 270.6 827 270.9 828.7 270.8 830.4 270.3 831.8 269.5 833 268.5 833.7 267.2 834.1 265.8 834 264.4 833.4 263.1 832.4 261.9 831.1 261 829.5 260.4 827.8 260.1 826.1 260.2 824.4 260.7 823 261.5 821.8 262.5 821.1 263.8 820.7 265.2 820.8 266.6 821.4 267.9 822.4 269.1 823.7 270 825.3Z"/>
<path class="l" d="M283.3 827.2 283.6 828.1 283.7 829 283.6 829.8 283.4 830.5 283 831.1 282.5 831.5 281.8 831.6 281.1 831.6 280.4 831.3 279.8 830.8 279.2 830.1 278.7 829.4 278.4 828.5 278.3 827.6 278.4 826.8 278.6 826.1 279 825.5 279.5 825.1 280.2 825 280.9 825 281.6 825.3 282.2 825.8 282.8 826.5 283.3 827.2Z"/>
<path class="l" d="M272.2 797.6 273.2 799.3 273.7 801.1 273.8 802.9 273.5 804.6 272.7 806 271.6 807.1 270.2 807.8 268.6 808 266.9 807.8 265.2 807.1 263.7 805.9 262.4 804.4 261.4 802.7 260.9 800.9 260.8 799.1 261.1 797.4 261.9 796 263 794.9 264.4 794.2 266 794 267.7 794.2 269.4 794.9 270.9 796.1 272.2 797.6Z"/>
<path class="l" d="M255.3 739.4 256.1 741.1 256.5 742.8 256.5 744.4 256.2 745.9 255.5 747.1 254.5 748 253.3 748.4 251.9 748.4 250.4 748 249 747.1 247.7 745.9 246.7 744.4 245.9 742.7 245.5 741 245.5 739.4 245.8 737.9 246.5 736.7 247.5 735.8 248.7 735.4 250.1 735.4 251.6 735.8 253 736.7 254.3 737.9 255.3 739.4Z"/>
<path class="l" d="M263.7 763.8 264 764.6 264.2 765.4 264.3 766.3 264.1 767 263.8 767.6 263.2 768 262.6 768.3 261.9 768.2 261.2 768 260.5 767.6 259.9 767 259.3 766.2 259 765.4 258.8 764.6 258.7 763.7 258.9 763 259.2 762.4 259.8 762 260.4 761.7 261.1 761.8 261.8 762 262.5 762.4 263.1 763 263.7 763.8Z"/>
<path class="l" d="M350 761 350.3 761.9 350.6 762.7 350.6 763.6 350.4 764.3 350.1 764.9 349.6 765.3 348.9 765.6 348.2 765.5 347.5 765.3 346.8 764.9 346.2 764.3 345.6 763.5 345.3 762.7 345.1 761.9 345 761 345.2 760.3 345.5 759.7 346.1 759.3 346.7 759 347.4 759 348.1 759.3 348.8 759.7 349.4 760.3 350 761Z"/>
<!-- 15_small.svg -->
<path class="l" d="M308.9 865.1 304.9 867.7 302.6 871.7 302.4 875.7 303.4 878.5 306.5 878.9 319.7 886.8 329.2 892"/>
<path class="l" d="M308.9 865.1 326 874.5 336.4 879.7"/>
<path class="l" d="M312.1 867.3 307.7 871.7 306.5 876.9 307.7 880.1"/>
<path class="l" d="M316.5 869.7 312.1 874.1 310.9 878.9 311.7 882.1"/>
<path class="l" d="M320.9 872.1 316.1 876.5 315.3 881.7 316.1 884.4"/>
<path class="l" d="M326 874.5 320.5 878.1 319.3 882.9 319.3 886.4"/>
<path class="l" d="M336.4 879.7 331.6 885.2 330 889.6 329.2 892 329.2 897.6 330.8 900.4 335.6 902.8"/>
<path class="l" d="M336.4 879.7 339.6 878.3 344.7 878.3 347.5 882.1 348.7 886"/>
<path class="l" d="M342 889.2 349.1 886.8 352.3 890 351.5 896.4 349.1 899.6 343.9 902.4 341.2 901.6 342 889.2"/>
<path class="l" d="M335.2 885.6 342 889.2"/>
<path class="l" d="M335.2 885.6 342 881.3 348.3 886.4"/>
<path class="l" d="M335.2 885.6 332.8 892.8 334 894.8 341.2 898"/>
<path class="l" d="M334 894.8 336.8 900 341.2 901.6"/>
<path class="l" d="M1141.9 544.8 1148 532.5 1158.2 527.1 1166.4 531.8 1170.8 537.3 1170.5 542.7 1164.4 552.3 1155.5 557.7 1145.9 553.7 1141.9 544.8"/>
<path class="l" d="M1148 532.5 1155.5 537.3 1166.4 531.8"/>
<path class="l" d="M1155.5 537.3 1150 548.9 1151.4 555"/>
<path class="l" d="M1143.9 548.2 1150 548.9"/>
<path class="l" d="M1165.8 548 1164.6 549.7 1163.2 551.1 1161.6 552 1160 552.5 1158.5 552.5 1157.1 552.1 1156 551.1 1155.2 549.8 1154.9 548.1 1154.9 546.3 1155.4 544.4 1156.2 542.5 1157.4 540.9 1158.8 539.5 1160.4 538.6 1162 538.1 1163.5 538.1 1164.9 538.5 1166 539.5 1166.8 540.8 1167.1 542.5 1167.1 544.3 1166.6 546.2 1165.8 548Z"/>
<path class="l" d="M1164.5 546.8 1163.7 547.9 1162.8 548.9 1161.7 549.6 1160.6 550 1159.6 550.1 1158.8 549.8 1158.1 549.1 1157.6 548.2 1157.4 547.1 1157.5 545.9 1157.9 544.5 1158.5 543.2 1159.3 542.1 1160.2 541.1 1161.3 540.4 1162.4 540 1163.4 539.9 1164.2 540.2 1164.9 540.9 1165.4 541.8 1165.6 542.9 1165.5 544.1 1165.1 545.5 1164.5 546.8Z" style="stroke-width:2.5"/>
<path class="l" d="M1167.9 536.6 1169 538.1 1169.6 540.2 1169.7 542.5 1169.2 545 1168.1 547.4 1166.7 549.7 1164.9 551.5 1162.9 552.9 1160.8 553.7 1158.8 553.8 1157.1 553.2 1155.7 552 1154.7 550.3"/>
<path class="l" d="M910 778.8 1043.1 701.2 1067.5 714.4 932.5 792.5 910 778.8"/>
<path class="l" d="M910 778.8 910 781 932.5 794.4 1055 723.1"/>
<path class="l" d="M932.5 792.5 932.5 794.4"/>
<path class="l" d="M1067.5 714.4 1069.4 718.1 1069.4 755.6 1067.5 756.2 1059.4 751.9 1059.4 727.5 1055 723.1"/>
<path class="l" d="M1067.5 716.2 1067.5 756.2"/>
<path class="l" d="M1043.8 727.5 1043.8 742.5 1050.6 747.5 1053.8 746.9 1053.8 723.8"/>
<path class="l" d="M1051.9 725 1051.9 747.5"/>
<!-- 16_1090b.svg -->
<path class="l" d="M1007.7 375.9 C1007.5 376.8 1005.9 379.8 1006.4 381.4 C1006.8 383 1006.8 383.2 1010.5 385.5 C1014.1 387.8 1023.7 392.8 1028.2 395 C1032.7 397.3 1035 398 1037.7 399.1 C1040.5 400.3 1041.2 401.2 1044.6 401.9 C1048 402.5 1052.8 402.8 1058.2 402.9 C1063.7 403 1073.1 402.8 1077.3 402.5 C1081.5 402.3 1082.4 401.4 1083.5 401.2"/>
<path class="l" d="M1013.9 387.5 C1015.1 389 1019 394 1021.4 396.4 C1023.8 398.8 1025.5 400.2 1028.2 401.9 C1030.9 403.6 1034.5 405.3 1037.7 406.6 C1041 408 1044.6 409.4 1048 410 C1051.4 410.7 1054.2 410.7 1058.2 410.7 C1062.2 410.7 1067.3 410.5 1071.9 410 C1076.4 409.6 1083.2 408.3 1085.5 408"/>
<path class="l" d="M1039.8 358.2 C1041.2 359 1045.1 361.5 1048 363 C1050.8 364.5 1053.7 367 1056.8 367.1 C1060 367.2 1065.4 364.2 1067.1 363.7"/>
<path class="l" d="M990 333.6 C991.1 335.1 994.5 339.3 996.8 342.5 C999.1 345.7 1001.9 348.5 1003.6 352.7 C1005.3 356.9 1006.3 364.1 1007.1 367.7 C1007.8 371.4 1008.2 373.4 1008.4 374.6"/>
<path class="l" d="M990 322.7 C992.2 325.2 999.5 332.8 1003 337.7 C1006.4 342.6 1008.5 348 1010.5 352.1 C1012.4 356.2 1013.2 359.3 1014.6 362.3 C1015.9 365.2 1018 368.5 1018.6 369.8"/>
<path class="l" d="M1066.4 336.4 1070.5 335.7 1087.5 327.5 1098.5 334.3"/>
<path class="l" d="M1069.8 343.2 1091 354.8 1101.2 360.2 1110 355.5"/>
<path class="l" d="M1091 354.1 1110 343.2"/>
<path class="l" d="M1069.8 352.1 1091 364.3"/>
<path class="l" d="M1069.8 358.2 1084.1 367.7"/>
<path class="l" d="M1101.2 360.2 1101.9 386.8"/>
<path class="l" d="M1053.4 372.5 1053.4 382.1 1058.9 387.5 1067.1 402.5"/>
<path class="l" d="M1057.5 373.9 1072.5 401.9"/>
<path class="l" d="M1081.4 376.6 1082.1 385.5 1083.5 401.2"/>
<path class="l" d="M1021.4 396.4 1021.4 408 1041.8 416.2"/>
<path class="l" d="M1025.5 361.6 1045.9 353.4"/>
<path class="l" d="M1054.1 371.8 1067.1 367.7"/>
<path class="l" d="M1037.7 381.4 1037.7 399.1"/>
<path class="l" d="M1045.9 384.8 1045.9 401.9"/>
<path class="l" d="M1021.4 371.2 1021.4 383.4"/>
<path class="l" d="M1033.7 370.5 1033.7 388.2"/>
<path class="l" d="M1037.7 381.4 1044.6 384.8 1048 374.6"/>
<path class="l" d="M1039.1 373.9 1048 374.6"/>
<path class="l" d="M1088.2 380.7 1088.9 407.3 1093.7 408.7"/>
<path class="l" d="M1053.4 398.4 1061.6 393.7"/>
<path class="l" d="M1053.4 398.4 1053.4 402.5"/>
<path class="l" d="M1008.4 380 C1009.9 380.9 1014.2 383.7 1017.3 385.5 C1020.4 387.3 1023.7 389.1 1026.8 390.9 C1030 392.8 1034.8 395.5 1036.4 396.4" style="stroke-width:4.2"/>
<path class="l" d="M1008.4 380 C1009.9 380.9 1014.2 383.7 1017.3 385.5 C1020.4 387.3 1023.7 389.1 1026.8 390.9 C1030 392.8 1034.8 395.5 1036.4 396.4" style="stroke:#fff;stroke-width:2.2;stroke-dasharray:1.4 1.4"/>
<path class="l" d="M1011.1 354.1 C1012.2 355 1015.5 357.9 1017.3 359.6 C1019.1 361.3 1021.8 362.7 1022.1 364.3 C1022.3 365.9 1019.7 367.6 1018.6 369.1 C1017.6 370.6 1016.4 372.5 1015.9 373.2" style="stroke-width:4.2"/>
<path class="l" d="M1011.1 354.1 C1012.2 355 1015.5 357.9 1017.3 359.6 C1019.1 361.3 1021.8 362.7 1022.1 364.3 C1022.3 365.9 1019.7 367.6 1018.6 369.1 C1017.6 370.6 1016.4 372.5 1015.9 373.2" style="stroke:#fff;stroke-width:2.2;stroke-dasharray:1.4 1.4"/>
<path class="l" d="M1091 365 C1091.9 365.7 1095 367.5 1096.4 369.1 C1097.8 370.7 1098.6 372.3 1099.1 374.6 C1099.7 376.8 1099.7 381.4 1099.8 382.8" style="stroke-width:3.6"/>
<path class="l" d="M1091 365 C1091.9 365.7 1095 367.5 1096.4 369.1 C1097.8 370.7 1098.6 372.3 1099.1 374.6 C1099.7 376.8 1099.7 381.4 1099.8 382.8" style="stroke:#fff;stroke-width:1.6;stroke-dasharray:1.4 1.4"/>
<!-- 20_309D_up.svg -->
<path class="l" d="M502.4 1330.8 602.9 1275.8 612.6 1273.8"/>
<path class="l" d="M612.6 1273.8 C619 1270.1 642.2 1255.4 651.3 1251.6 C660.3 1247.8 660 1249.6 666.7 1251.2 C673.5 1252.8 687.7 1259.6 691.8 1261.3"/>
<path class="l" d="M602.9 1275.8 C606.2 1275.6 614.9 1273.3 622.3 1274.8 C629.7 1276.2 639.3 1279.6 647.4 1284.5 C655.4 1289.3 664.1 1296.7 670.6 1303.8 C677 1310.9 682.2 1318.9 686 1327 C689.9 1335 692.3 1343.4 693.8 1352.1 C695.2 1360.8 695.7 1371.4 694.7 1379.2 C693.8 1386.9 690.1 1394 688 1398.5 C685.9 1403 683.1 1404.9 682.2 1406.2"/>
<path class="l" d="M587.5 1452.6 682.2 1406.2"/>
<path class="l" d="M691.8 1261.3 701.5 1305.7"/>
<path class="l" d="M701.5 1305.7 715 1303.8 720.8 1323.1 703.4 1332.8"/>
<path class="l" d="M705.4 1308.6 717 1306.7"/>
<path class="l" d="M693.8 1263.2 713.1 1254.5 719.9 1262.2 718.9 1267.1 697.6 1279.6"/>
<path class="l" d="M647.4 1284.5 666.7 1274.8 691.8 1261.3"/>
<path class="l" d="M660.9 1298 676.4 1288.3"/>
<path class="l" d="M701.5 1334.7 720.8 1332.8 734.4 1339.5 734.4 1344.4 707.3 1357.9"/>
<path class="l" d="M689.9 1394.6 705.4 1386.9 703.4 1375.3 693.8 1392.7"/>
<path class="l" d="M666.7 1274.8 C669.9 1278.7 680.2 1288.6 686 1298 C691.8 1307.3 698.3 1321.8 701.5 1330.8 C704.7 1339.9 705.1 1344.7 705.4 1352.1 C705.7 1359.5 703.8 1371.4 703.4 1375.3"/>
<path class="l" d="M630 1341.5 C631.6 1342.9 638 1346.5 639.7 1350.2 C641.3 1353.9 641.3 1360.2 639.7 1363.7 C638 1367.2 631.3 1368.8 630 1371.4 C628.7 1374 629.5 1376.9 631.9 1379.2 C634.3 1381.4 642.4 1384 644.5 1385"/>
<path class="l" d="M686 1402.4 709.2 1375.3 740 1379.2"/>
<path class="l" d="M477.3 1363.7 C478 1361.1 478 1353.1 481.2 1348.2 C484.4 1343.4 490.8 1337.6 496.6 1334.7 C502.4 1331.8 508.9 1330.5 516 1330.8 C523.1 1331.2 531.7 1333.4 539.2 1336.6 C546.6 1339.9 554 1343.7 560.4 1350.2 C566.9 1356.6 573.3 1366.3 577.8 1375.3 C582.3 1384.3 585.4 1394.6 587.5 1404.3 C589.6 1413.9 590.1 1426.8 590.4 1433.3 C590.7 1439.7 589.6 1441.3 589.4 1442.9"/>
<path class="l" d="M523.7 1340.5 C528.2 1342.8 543 1347.6 550.8 1354 C558.5 1360.5 564.9 1370.5 570.1 1379.2 C575.2 1387.9 579.1 1397.2 581.7 1406.2 C584.3 1415.2 584.9 1428.8 585.5 1433.3"/>
<path class="l" d="M477.3 1383 508.2 1339.5 516 1338.6 544 1375.3 543 1379.2 481.2 1385.9 477.3 1383"/>
<path class="l" d="M510.2 1343.4 519.8 1363.7 541.1 1375.3"/>
<path class="l" d="M516 1363.7 481.2 1384"/>
<path class="l" d="M513.1 1343.4 508.2 1340.5"/>
<path class="l" d="M446.4 1387.9 488.9 1363.7"/>
<path class="l" d="M442.5 1390.4 487 1366"/>
<path class="l" d="M494.7 1404.3 558.5 1383 565.2 1410.1"/>
<path class="l" d="M500.5 1400.4 560.4 1386.9"/>
<path class="l" d="M419.3 1404.3 C420 1402.4 419.6 1395.6 423.2 1392.7 C426.7 1389.8 437 1387.2 440.6 1386.9 C444.1 1386.6 443.8 1390.1 444.5 1390.8"/>
<path class="l" d="M419.3 1404.3 418.4 1417.8"/>
<path class="l" d="M430.9 1412 C432.9 1410.4 438 1404.3 442.5 1402.4 C447 1400.4 452.5 1399.8 458 1400.4 C463.5 1401.1 468.9 1403 475.4 1406.2 C481.8 1409.4 491.2 1416.5 496.6 1419.7 C502.1 1423 506.3 1424.6 508.2 1425.5"/>
<path class="l" d="M473.4 1429.4 485 1423.6 508.2 1420.7"/>
<path class="l" d="M430.9 1415.9 446.4 1497.1"/>
<path class="l" d="M433.8 1419.7 449.3 1491.3"/>
<path class="l" d="M430.9 1412 C432.2 1411.7 435.1 1410.2 438.7 1410.1 C442.2 1409.9 446.4 1409.4 452.2 1411 C458 1412.7 467.6 1417.3 473.4 1419.7 C479.2 1422.2 484.7 1424.6 487 1425.5"/>
<path class="l" d="M473.4 1430.4 490.8 1524.1 506.3 1526"/>
<path class="l" d="M485 1426.5 503.4 1520.2"/>
<path class="l" d="M413.5 1420.7 419.3 1417.8 430.9 1413.9 430.9 1427.5 421.3 1431.3 414.5 1428.4 413.5 1420.7"/>
<path class="l" d="M421.3 1431.3 434.8 1441"/>
<path class="l" d="M456 1508.7 488.9 1518.3 504.4 1526 523.7 1514.4 523.7 1506.7"/>
<path class="l" d="M440.6 1493.2 448.3 1489.3 456 1499 454.1 1508.7 444.5 1500.9"/>
<path class="l" d="M504.4 1421.7 517.9 1510.6 523.7 1512.5"/>
<path class="l" d="M509.2 1410.1 525.6 1512.5"/>
<path class="l" d="M513.1 1444.9 531.4 1439.1 531.4 1446.8 516 1454.5 508.2 1448.7 513.1 1444.9"/>
<path class="l" d="M510.2 1410.1 C513.1 1412 522.7 1415.9 527.6 1421.7 C532.4 1427.5 536.9 1438.1 539.2 1444.9 C541.4 1451.6 541.1 1457.1 541.1 1462.3 C541.1 1467.4 539.5 1473.5 539.2 1475.8"/>
<path class="l" d="M516 1408.1 C518.9 1409.8 529.2 1413.9 533.4 1417.8 C537.5 1421.7 539.8 1429.1 541.1 1431.3"/>
<path class="l" d="M543 1425.5 560.4 1415.9 573.9 1410.1 581.7 1425.5 564.3 1433.3 543 1425.5"/>
<path class="l" d="M552.7 1419.7 564.3 1421.7 566.2 1433.3"/>
<path class="l" d="M572 1410.1 579.7 1421.7 579.7 1433.3"/>
<path class="l" d="M568.1 1439.1 585.5 1430.4 589.4 1436.2 570.1 1444.9 568.1 1439.1"/>
<path class="l" d="M529.5 1466.1 581.7 1437.1 597.1 1504.8 543 1531.8 529.5 1466.1"/>
<path class="l" d="M532.4 1468.1 543 1529.9"/>
<path class="l" d="M400 1497.1 441.6 1474.8"/>
<path class="l" d="M400 1531.8 452.2 1506.7 458 1514.4"/>
<path class="l" d="M400 1537.6 454.1 1512.5"/>
<path class="l" d="M475.5 1473.5 476.6 1477.3 477 1481.2 476.8 1484.9 475.9 1488.3 474.4 1491.1 472.4 1493.3 469.9 1494.6 467.2 1495.2 464.2 1494.8 461.3 1493.6 458.4 1491.6 455.9 1488.9 453.7 1485.7 452 1482 451 1478.1 450.5 1474.2 450.8 1470.5 451.6 1467.2 453.1 1464.3 455.2 1462.2 457.6 1460.8 460.4 1460.3 463.3 1460.6 466.3 1461.8 469.1 1463.8 471.7 1466.5 473.9 1469.8 475.5 1473.5Z"/>
<path class="l" d="M473.6 1474.1 474.7 1478 475 1481.9 474.5 1485.5 473.3 1488.5 471.5 1490.9 469.1 1492.3 466.3 1492.7 463.4 1492.1 460.6 1490.6 457.9 1488.1 455.6 1485 453.9 1481.3 452.9 1477.4 452.6 1473.6 453.1 1470 454.3 1466.9 456.1 1464.6 458.5 1463.2 461.2 1462.7 464.1 1463.3 467 1464.9 469.7 1467.3 471.9 1470.5 473.6 1474.1Z"/>
<path class="l" d="M471.9 1475.4 472.7 1478.4 472.9 1481.4 472.6 1484.2 471.7 1486.5 470.3 1488.3 468.5 1489.4 466.4 1489.7 464.2 1489.2 461.9 1488 459.9 1486.1 458.2 1483.7 456.8 1480.8 456 1477.8 455.8 1474.8 456.1 1472.1 457 1469.7 458.5 1467.9 460.3 1466.8 462.3 1466.5 464.6 1467 466.8 1468.2 468.8 1470.1 470.6 1472.6 471.9 1475.4Z"/>
<!-- 21_309D_low.svg -->
<path class="l" d="M335.3 1530.9 389.4 1501.9"/>
<path class="l" d="M389.4 1501.9 404.8 1494.2"/>
<path class="l" d="M335.3 1530.9 335.3 1538.7 368.1 1551.2 458.9 1506.8"/>
<path class="l" d="M337.2 1533.8 370 1548.3"/>
<path class="l" d="M370 1548.3 455.1 1507.7"/>
<path class="l" d="M372 1552.6 458.9 1511.6"/>
<path class="l" d="M339.1 1541.6 340.1 1575.4 356.5 1585 357.5 1548.3"/>
<path class="l" d="M343 1572.5 354.6 1581.2"/>
<path class="l" d="M338.2 1576.3 356.5 1586"/>
<path class="l" d="M453.1 1503.9 460.9 1507.7 470.5 1509.7 489.9 1519.3 493.7 1525.1 507.3 1525.1 522.7 1519.3 540.1 1532.9 596.2 1503.9"/>
<path class="l" d="M399 1720.3 460.9 1688.4 476.3 1695.2 478.3 1712.6 474.4 1731.9 458.9 1737.7"/>
<path class="l" d="M414.5 1712.6 462.8 1701 462.8 1735.8"/>
<path class="l" d="M418.4 1724.2 420.3 1751.3"/>
<path class="l" d="M339.1 1744.5 366.2 1759 393.2 1749.3"/>
<path class="l" d="M362.3 1746.4 362.3 1757.1"/>
<path class="l" d="M375.8 1746.4 375.8 1757.1"/>
<path class="l" d="M470.5 1600.5 520.8 1574.4 555.6 1592.8 555.6 1616 501.5 1643 495.7 1645 495.7 1828.6 501.5 1830.5 544 1809.2 544 1805.4 553.7 1800.5 554.6 1673.9"/>
<path class="l" d="M470.5 1600.5 470.5 1646.9"/>
<path class="l" d="M501.5 1623.7 501.5 1643"/>
<path class="l" d="M470.5 1601.5 499.5 1622.7 555.6 1594.7"/>
<path class="l" d="M458.9 1608.2 470.5 1646.9"/>
<path class="l" d="M470.5 1759 468.6 1815 495.7 1828.6"/>
<path class="l" d="M509.2 1704.9 509.2 1828.6"/>
<path class="l" d="M494.7 1704.9 553.7 1675.9 625.2 1635.3"/>
<path class="l" d="M495.7 1706.8 507.3 1704.9 553.7 1679.7"/>
<path class="l" d="M555.6 1592.8 625 1552.2"/>
<path class="l" d="M555.6 1610.2 625 1571.5"/>
<path class="l" d="M555.6 1718.4 625 1677.8"/>
<path class="l" d="M555.6 1731.9 625 1693.3"/>
<path class="l" d="M540.1 1585 625 1539.6"/>
<path class="l" d="M368.1 1552.2 C368.4 1554.1 368.8 1561 370 1563.8 C371.3 1566.5 372 1567.2 375.8 1568.6 C379.7 1570.1 385.8 1569.7 393.2 1572.5 C400.6 1575.2 411.9 1580.7 420.3 1585 C428.7 1589.4 436.4 1594.7 443.5 1598.6 C450.6 1602.4 459.6 1606.6 462.8 1608.2"/>
<path class="l" d="M377.8 1558 C380.3 1558.3 386.1 1558 393.2 1559.9 C400.3 1561.8 411.9 1565.4 420.3 1569.6 C428.7 1573.8 436.4 1579.2 443.5 1585 C450.6 1590.8 459.6 1601.1 462.8 1604.4"/>
<path class="l" d="M298.5 1689.4 C298.7 1683.6 298.5 1664.3 299.5 1654.6 C300.5 1645 302.6 1636.6 304.3 1631.4 C306.1 1626.3 309.2 1625 310.1 1623.7"/>
<path class="l" d="M310.1 1623.7 C316.2 1620.6 338.2 1609 346.8 1605.3 C355.5 1601.6 359.7 1602.1 362.3 1601.5"/>
<path class="l" d="M362.3 1602.4 C366.8 1602.1 380.3 1598.9 389.4 1600.5 C398.4 1602.1 408.1 1606.3 416.4 1612.1 C424.8 1617.9 433.2 1627.6 439.6 1635.3 C446.1 1643 451.2 1649.8 455.1 1658.5 C458.9 1667.2 461.5 1682.6 462.8 1687.5"/>
<path class="l" d="M360.4 1605.3 C364.6 1605 377.4 1602.3 385.5 1603.4 C393.6 1604.5 401 1607.8 408.7 1612.1 C416.4 1616.4 424.8 1622.4 431.9 1629.5 C439 1636.6 446.5 1646.2 451.2 1654.6 C455.9 1663 458.5 1675.6 459.9 1679.7"/>
<path class="l" d="M308.2 1641.1 C311.7 1640.4 321.7 1636.3 329.5 1637.2 C337.2 1638.2 346.5 1642.1 354.6 1646.9 C362.6 1651.7 371 1658.5 377.8 1666.2 C384.5 1673.9 391.6 1684.6 395.2 1693.3 C398.7 1702 398.4 1714.2 399 1718.4"/>
<path class="l" d="M312.1 1633.4 C316.6 1632.4 330.7 1627.9 339.1 1627.6 C347.5 1627.2 354.6 1628.5 362.3 1631.4 C370 1634.3 378.4 1638.5 385.5 1645 C392.6 1651.4 400.3 1662 404.8 1670.1 C409.3 1678.1 411 1686.2 412.6 1693.3 C414.2 1700.4 414.2 1709.4 414.5 1712.6"/>
<path class="l" d="M302.4 1685.5 C304.6 1683.6 311.1 1675.6 315.9 1673.9 C320.8 1672.3 326.2 1673.3 331.4 1675.9 C336.5 1678.5 342.3 1683.9 346.8 1689.4 C351.4 1694.9 356.2 1702.3 358.4 1708.7 C360.7 1715.2 361 1722.3 360.4 1728.1 C359.7 1733.9 358.4 1740.3 354.6 1743.5 C350.7 1746.7 340.1 1746.7 337.2 1747.4"/>
<path class="l" d="M401 1720.3 C405.5 1719.7 422.5 1716.1 428 1716.5 C433.5 1716.8 432.9 1717.8 433.8 1722.3 C434.8 1726.8 434.8 1738.7 433.8 1743.5 C432.9 1748.4 431.9 1749.6 428 1751.3 C424.2 1752.9 416.4 1753.5 410.6 1753.2 C404.8 1752.9 405.2 1750.9 393.2 1749.3 C381.3 1747.7 348.1 1744.5 339.1 1743.5"/>
<path class="l" d="M393.2 1749.3 C397.7 1751.6 411 1759.3 420.3 1762.9 C429.6 1766.4 442.5 1769.3 449.3 1770.6 C456 1771.9 457.3 1772.5 460.9 1770.6 C464.4 1768.7 468.9 1760.9 470.5 1759"/>
<path class="l" d="M339.1 1573.4 C337.5 1576.7 331.7 1586 329.5 1592.8 C327.2 1599.5 326.2 1610.5 325.6 1614"/>
<path class="l" d="M348.8 1596.6 C346.2 1598.6 334.3 1606.6 333.3 1608.2 C332.4 1609.8 338.2 1606.9 343 1606.3 C347.8 1605.7 359.1 1604.7 362.3 1604.4"/>
<path class="l" d="M334 1705.3 336 1708.8 337.6 1712.6 338.7 1716.4 339.3 1720.3 339.5 1724.1 339.2 1727.9 338.5 1731.4 337.3 1734.8 335.6 1737.8 333.6 1740.5 331.2 1742.8 328.5 1744.7 325.4 1746.1 322.2 1747 318.8 1747.4 315.3 1747.3 311.8 1746.6 308.2 1745.5 304.8 1743.9 301.5 1741.8 298.4 1739.3 295.6 1736.4 293.1 1733.2 290.9 1729.8 289.2 1726.1 287.8 1722.3 286.9 1718.5 286.5 1714.6 286.6 1710.8 287.1 1707.1 288.1 1703.7 289.5 1700.5 291.3 1697.6 293.6 1695.1 296.1 1693 299 1691.3 302.2 1690.2 305.5 1689.5 308.9 1689.4 312.5 1689.8 316 1690.7 319.5 1692.1 322.9 1693.9 326.1 1696.2 329 1698.9 331.7 1701.9 334 1705.3Z"/>
<path class="l" d="M329.1 1709.6 331 1713.2 332.2 1717 332.8 1720.8 332.7 1724.6 332 1728.2 330.5 1731.5 328.5 1734.3 326 1736.6 323 1738.2 319.7 1739.2 316.2 1739.4 312.6 1738.8 309.1 1737.6 305.8 1735.7 302.7 1733.1 300 1730.1 297.9 1726.7 296.3 1723 295.4 1719.1 295.2 1715.2 295.6 1711.5 296.7 1708.1 298.4 1705 300.7 1702.5 303.4 1700.5 306.6 1699.2 310 1698.7 313.6 1698.8 317.1 1699.7 320.6 1701.3 323.8 1703.5 326.7 1706.3 329.1 1709.6Z"/>
<path class="l" d="M328.2 1710.9 330.1 1714.5 331.3 1718.4 331.7 1722.3 331.4 1726 330.3 1729.5 328.6 1732.6 326.2 1735 323.3 1736.8 320.1 1737.9 316.6 1738.1 313 1737.5 309.5 1736.2 306.2 1734.1 303.2 1731.3 300.8 1728.1 298.9 1724.5 297.7 1720.6 297.3 1716.7 297.6 1713 298.7 1709.5 300.4 1706.4 302.8 1704 305.7 1702.2 308.9 1701.1 312.4 1700.9 316 1701.5 319.5 1702.8 322.8 1704.9 325.8 1707.7 328.2 1710.9Z"/>
<path class="l" d="M383.2 1529 383 1531 381.9 1533.1 380 1534.9 377.3 1536.6 374.1 1537.8 370.5 1538.5 366.9 1538.8 363.5 1538.5 360.5 1537.7 358.1 1536.4 356.4 1534.8 355.7 1532.9 355.9 1530.8 357 1528.8 359 1526.9 361.7 1525.3 364.9 1524.1 368.4 1523.3 372 1523.1 375.4 1523.4 378.4 1524.2 380.8 1525.4 382.5 1527.1 383.2 1529Z"/>
<path class="l" d="M515.4 1600.4 515.2 1602.5 514.1 1604.5 512 1606.4 509.2 1608 505.8 1609.3 502.2 1610.1 498.4 1610.3 494.8 1610 491.7 1609.3 489.2 1608 487.5 1606.4 486.7 1604.5 486.9 1602.4 488.1 1600.4 490.2 1598.5 493 1596.8 496.3 1595.6 500 1594.8 503.8 1594.5 507.3 1594.8 510.5 1595.6 513 1596.9 514.7 1598.5 515.4 1600.4Z"/>
<path class="l" d="M705 1375.4 C707.8 1375.4 714.4 1374 721.3 1375.4 C728.3 1376.7 738.2 1380.1 746.7 1383.5 C755.1 1387 764.1 1390.5 772 1396.2 C779.8 1401.9 787.1 1410.4 793.7 1417.9 C800.3 1425.4 808.2 1436.9 811.8 1441.4 C815.4 1445.9 814.8 1444.4 815.4 1445"/>
<path class="l" d="M706.8 1377.6 C712 1377.9 727.1 1376.6 737.6 1379.9 C748.2 1383.2 761.1 1390.5 770.2 1397.1 C779.2 1403.7 785.2 1412 791.9 1419.7 C798.5 1427.4 807 1439.3 810 1443.2"/>
<path class="l" d="M835.3 1499.3 C835.9 1503.2 838.9 1514.7 838.9 1522.8 C838.9 1531 837.1 1541.5 835.3 1548.2 C833.5 1554.8 830.8 1558.7 828.1 1562.6 C825.4 1566.6 820.5 1570.2 819 1571.7"/>
<path class="l" d="M832.6 1500.2 C833.2 1504 836.1 1515.1 836.2 1522.8 C836.4 1530.5 833.9 1542.4 833.5 1546.4"/>
<path class="l" d="M686.9 1402.5 C692.4 1405.1 709.6 1411.4 719.5 1417.9 C729.5 1424.4 738.5 1432.4 746.7 1441.4 C754.8 1450.5 762.3 1461.6 768.4 1472.2 C774.4 1482.7 779.2 1494.8 782.8 1504.7 C786.5 1514.7 788.7 1522.8 790.1 1531.9 C791.4 1540.9 791.6 1550.9 791 1559 C790.4 1567.2 789 1574.7 786.5 1580.7 C783.9 1586.8 778.3 1592.2 775.6 1595.2 C772.9 1598.2 771.1 1598.2 770.2 1598.8"/>
<path class="l" d="M653.5 1588.9 C653.8 1596 655.4 1621.3 655.3 1631.4 C655.1 1641.5 654.8 1642.9 652.6 1649.5 C650.3 1656.1 643.5 1667.6 641.7 1671.2"/>
<path class="l" d="M652.6 1588 C654.1 1585.9 661 1579.8 661.6 1575.3 C662.2 1570.8 657.5 1564.1 656.2 1560.8 C654.8 1557.5 653.9 1556.3 653.5 1555.4"/>
<path class="l" d="M819 1571.7 770.2 1598.8 641.7 1671.2"/>
<path class="l" d="M620 1439.6 681.5 1407 692.4 1396.2"/>
<path class="l" d="M790.1 1459.5 813.6 1447.8 820.8 1446.8 840.7 1449.6 855.2 1481.2 855.2 1486.7 828.1 1499.3 826.3 1490.3"/>
<path class="l" d="M790.1 1459.5 791.9 1468.6 799.1 1474 811.8 1468.6"/>
<path class="l" d="M791.9 1461.3 811.8 1463.1 817.2 1466.7 842.5 1454.1"/>
<path class="l" d="M811.8 1463.1 819 1486.7 838.9 1486.7 840.7 1454.1"/>
<path class="l" d="M824.5 1464 826.3 1490.3 837.1 1486.7"/>
<path class="l" d="M806.4 1495.7 819 1490.3 828.1 1497.5 828.1 1504.7 811.8 1510.2 806.4 1504.7 806.4 1495.7"/>
<path class="l" d="M620 1573.5 652.6 1554.5 653.5 1588 627.2 1602.4 626.3 1577.1 652.6 1566.3"/>
<path class="l" d="M652.6 1554.5 636.3 1542.7 630.9 1537.3 620 1539.1"/>
<path class="l" d="M641.7 1671.2 641.7 1683.9 620 1694.7"/>
<path class="l" d="M620 1635 654.4 1615.1"/>
<path class="l" d="M620 1638.6 655.3 1618.7"/>
<path class="l" d="M824.7 1477.6 824.6 1478.8 824.3 1479.9 823.9 1480.8 823.2 1481.5 822.5 1482 821.7 1482.1 821 1482 820.2 1481.5 819.6 1480.8 819.1 1479.9 818.8 1478.8 818.7 1477.6 818.8 1476.4 819.1 1475.4 819.6 1474.4 820.2 1473.7 821 1473.3 821.7 1473.1 822.5 1473.3 823.2 1473.7 823.9 1474.4 824.3 1475.4 824.6 1476.4 824.7 1477.6Z"/>
<!-- 22_920A.svg -->
<path class="l" d="M1152.5 1272.4 C1153 1270.5 1153.2 1264.4 1155.3 1261.1 C1157.5 1257.7 1161.7 1254.3 1165.3 1252.5 C1168.8 1250.8 1172.4 1250.2 1176.6 1250.4 C1180.9 1250.6 1186.1 1251.5 1190.9 1254 C1195.6 1256.4 1200.6 1260.6 1205.1 1265.3 C1209.6 1270.1 1214.1 1276.2 1217.9 1282.4 C1221.7 1288.5 1225.6 1295.4 1227.8 1302.3 C1230.1 1309.1 1231.1 1317.4 1231.4 1323.6 C1231.6 1329.8 1230.8 1335.2 1229.2 1339.2 C1227.7 1343.3 1225.2 1345.6 1222.1 1347.8 C1219 1349.9 1214.8 1351.8 1210.8 1352 C1206.7 1352.3 1201.5 1350.4 1198 1349.2 C1194.4 1348 1190.9 1345.6 1189.4 1344.9"/>
<path class="l" d="M1237.8 1213.5 C1239.9 1213.1 1247.7 1212.3 1250.6 1211.3 C1253.4 1210.4 1252.2 1208.8 1254.8 1207.8 C1257.4 1206.7 1261.7 1204.9 1266.2 1204.9 C1270.7 1204.9 1277.1 1205.5 1281.8 1207.8 C1286.6 1210 1291.5 1214.5 1294.6 1218.4 C1297.7 1222.3 1299.3 1229.1 1300.3 1231.2"/>
<path class="l" d="M1308.8 1271 C1308.6 1273.1 1308.6 1279.8 1307.4 1283.8 C1306.2 1287.8 1304.1 1292.4 1301.7 1295.2 C1299.3 1297.9 1294.6 1299.3 1293.2 1300.1"/>
<path class="l" d="M1230.7 1215.6 C1233.5 1215.7 1242 1214.6 1247.7 1216.3 C1253.4 1218 1259.6 1221.4 1264.8 1225.5 C1270 1229.7 1274.9 1235.7 1279 1241.2 C1283 1246.6 1286.3 1252.1 1288.9 1258.2 C1291.5 1264.4 1293.8 1271.5 1294.6 1278.1 C1295.4 1284.8 1294.8 1293 1293.9 1298 C1293 1303 1290.9 1305.2 1288.9 1308 C1286.9 1310.7 1283 1313.3 1281.8 1314.4"/>
<path class="l" d="M1168.1 1275.3 C1170 1274.3 1175.7 1270.3 1179.5 1269.6 C1183.3 1268.9 1186.6 1269.1 1190.9 1271 C1195.1 1272.9 1201.3 1276.9 1205.1 1281 C1208.9 1285 1211.5 1290.4 1213.6 1295.2 C1215.7 1299.9 1217.2 1307 1217.9 1309.4"/>
<path class="l" d="M1163.9 1283.8 C1166.5 1282.6 1174.5 1277.2 1179.5 1276.7 C1184.5 1276.2 1189 1277.9 1193.7 1281 C1198.4 1284 1204.4 1290.2 1207.9 1295.2 C1211.5 1300.1 1213.8 1308.2 1215 1310.8"/>
<path class="l" d="M1148.2 1292.3 C1150.1 1291.6 1155.8 1288.3 1159.6 1288.1 C1163.4 1287.8 1167.2 1288.5 1171 1290.9 C1174.8 1293.3 1179.5 1298.3 1182.3 1302.3 C1185.2 1306.3 1187.1 1311 1188 1315.1 C1189 1319.1 1189 1323.6 1188 1326.4 C1187.1 1329.3 1183.3 1331.2 1182.3 1332.1"/>
<path class="l" d="M1152.5 1303.7 C1154.1 1303 1159.4 1299.7 1162.4 1299.4 C1165.5 1299.2 1168.1 1299.7 1171 1302.3 C1173.8 1304.9 1177.9 1311 1179.5 1315.1 C1181 1319.1 1181.1 1323.6 1180.2 1326.4 C1179.3 1329.3 1176.8 1331.4 1173.8 1332.1 C1170.8 1332.8 1164.3 1330.9 1162.4 1330.7"/>
<path class="l" d="M1148.2 1292.3 C1148 1294.2 1146.6 1299.9 1146.8 1303.7 C1147 1307.5 1149.2 1313.2 1149.6 1315.1"/>
<path class="l" d="M1169.5 1249.7 1230.7 1215.6 1237.8 1213.5"/>
<path class="l" d="M1300.3 1231.2 1301.7 1236.9 1314.5 1239 1314.5 1255.4 1308.8 1258.2 1308.8 1263.9 1315.2 1266.7 1315.2 1269.6 1308.8 1271"/>
<path class="l" d="M1222.1 1347.8 1281.8 1314.4"/>
<path class="l" d="M1261.9 1222.7 1276.1 1214.2 1280.4 1217 1280.4 1222.7 1269 1228.4"/>
<path class="l" d="M1276.1 1222.7 1297.5 1231.2"/>
<path class="l" d="M1279 1238.3 1300.3 1231.2"/>
<path class="l" d="M1286.1 1246.9 1291.8 1242.6"/>
<path class="l" d="M1301.7 1236.9 1301.7 1244 1307.4 1244"/>
<path class="l" d="M1296 1273.9 1308.8 1269.6"/>
<path class="l" d="M1297.5 1282.4 1307.4 1278.1"/>
<path class="l" d="M1132.6 1327.9 1139.7 1325 1159.6 1312.2 1165.3 1313.6 1167.4 1320.8 1165.3 1326.4 1144 1337.8 1138.3 1340.7 1134 1337.8 1132.6 1327.9"/>
<path class="l" d="M1145.4 1327.9 1147.5 1336.4"/>
<path class="l" d="M1088.5 1306.5 1097.1 1302.3 1105.6 1303.7 1112.7 1313.6 1112.7 1323.6 1104.2 1325 1095.6 1326.4 1088.5 1315.1 1088.5 1306.5"/>
<path class="l" d="M1097.1 1302.3 1104.2 1315.1 1104.2 1325"/>
<path class="l" d="M1088.5 1315.1 1095.6 1326.4"/>
<path class="l" d="M1107 1300.1 1114.1 1312.2 1114.8 1322.9 1110.6 1325"/>
<path class="l" d="M1114.1 1302.3 1156.7 1273.9 1165.3 1278.1"/>
<path class="l" d="M1115.5 1313.6 1165.3 1283.8"/>
<path class="l" d="M1165.3 1278.1 1165.3 1283.8"/>
<path class="l" d="M1146.8 1283.8 1149.6 1295.2"/>
<path class="l" d="M1151.1 1346.3 1159.6 1339.2 1168.1 1337.8 1176.6 1346.3 1178.1 1356.3 1169.5 1362 1159.6 1362 1152.5 1354.9 1151.1 1346.3"/>
<path class="l" d="M1168.1 1337.8 1169.5 1350.6 1169.5 1362"/>
<path class="l" d="M1151.1 1346.3 1162.4 1353.4"/>
<path class="l" d="M1171 1335.7 1179.5 1347.8 1179.5 1358.4 1173.8 1361.3"/>
<path class="l" d="M1171 1337.8 1222.1 1309.4 1229.2 1313.6"/>
<path class="l" d="M1179.5 1350.6 1230.7 1320.8"/>
<path class="l" d="M1209.3 1320.8 1211.5 1330.7"/>
<path class="l" d="M1064.4 1261.1 1094.2 1302.3"/>
<path class="l" d="M1118.4 1300.1 C1118.8 1301.1 1120.7 1303.9 1121.2 1305.8 C1121.7 1307.7 1121.5 1310.6 1121.5 1311.5"/>
<path class="l" d="M1121.9 1298.2 C1122.4 1299.1 1124.2 1301.9 1124.8 1303.8 C1125.3 1305.7 1125 1308.6 1125.1 1309.5"/>
<path class="l" d="M1125.5 1296.2 C1126 1297.1 1127.8 1300 1128.3 1301.9 C1128.8 1303.7 1128.6 1306.6 1128.6 1307.5"/>
<path class="l" d="M1129 1294.2 C1129.5 1295.1 1131.4 1298 1131.9 1299.9 C1132.4 1301.8 1132.1 1304.6 1132.2 1305.5"/>
<path class="l" d="M1132.6 1292.2 C1133.1 1293.1 1134.9 1296 1135.4 1297.9 C1136 1299.8 1135.7 1302.6 1135.7 1303.6"/>
<path class="l" d="M1136.1 1290.2 C1136.6 1291.1 1138.5 1294 1139 1295.9 C1139.5 1297.8 1139.2 1300.6 1139.3 1301.6"/>
<path class="l" d="M1139.7 1288.2 C1140.2 1289.2 1142 1292 1142.5 1293.9 C1143.1 1295.8 1142.8 1298.6 1142.8 1299.6"/>
<path class="l" d="M1179.5 1336.4 C1180 1337.3 1181.8 1340.2 1182.3 1342.1 C1182.9 1344 1182.6 1346.8 1182.6 1347.8"/>
<path class="l" d="M1183 1334.4 C1183.5 1335.3 1185.4 1338.2 1185.9 1340.1 C1186.4 1342 1186.1 1344.8 1186.2 1345.8"/>
<path class="l" d="M1186.6 1332.4 C1187.1 1333.4 1188.9 1336.2 1189.4 1338.1 C1190 1340 1189.7 1342.8 1189.7 1343.8"/>
<path class="l" d="M1190.1 1330.4 C1190.6 1331.4 1192.5 1334.2 1193 1336.1 C1193.5 1338 1193.2 1340.8 1193.3 1341.8"/>
<path class="l" d="M1193.7 1328.4 C1194.2 1329.4 1196 1332.2 1196.5 1334.1 C1197.1 1336 1196.8 1338.9 1196.8 1339.8"/>
<path class="l" d="M1197.3 1326.4 C1197.7 1327.4 1199.6 1330.2 1200.1 1332.1 C1200.6 1334 1200.3 1336.9 1200.4 1337.8"/>
<path class="l" d="M1200.8 1324.5 C1201.3 1325.4 1203.1 1328.2 1203.6 1330.1 C1204.2 1332 1203.9 1334.9 1203.9 1335.8"/>
<path class="l" d="M1100.2 1312.8 1100.9 1314.2 1101.2 1315.7 1101.2 1317.2 1100.9 1318.4 1100.3 1319.5 1099.3 1320.3 1098.2 1320.7 1097 1320.7 1095.7 1320.3 1094.5 1319.6 1093.4 1318.6 1092.4 1317.3 1091.8 1315.9 1091.5 1314.4 1091.5 1313 1091.8 1311.7 1092.4 1310.6 1093.3 1309.9 1094.5 1309.5 1095.7 1309.4 1097 1309.8 1098.2 1310.5 1099.3 1311.6 1100.2 1312.8Z"/>
<path class="l" d="M1162.1 1349.8 1162.7 1351.2 1163 1352.7 1163 1354.1 1162.7 1355.4 1162.1 1356.5 1161.2 1357.2 1160.1 1357.6 1158.8 1357.6 1157.5 1357.3 1156.3 1356.6 1155.2 1355.5 1154.3 1354.3 1153.6 1352.9 1153.3 1351.4 1153.3 1349.9 1153.6 1348.6 1154.3 1347.6 1155.2 1346.8 1156.3 1346.4 1157.5 1346.4 1158.8 1346.8 1160 1347.5 1161.2 1348.5 1162.1 1349.8Z"/>
<path class="l" d="M1139.4 1332.2 1139.7 1333 1139.8 1333.9 1139.7 1334.7 1139.5 1335.3 1139.2 1335.8 1138.8 1336.1 1138.2 1336.2 1137.7 1336 1137.1 1335.6 1136.5 1335.1 1136.1 1334.3 1135.7 1333.5 1135.4 1332.6 1135.3 1331.8 1135.4 1331 1135.6 1330.3 1135.9 1329.8 1136.4 1329.5 1136.9 1329.5 1137.5 1329.6 1138 1330 1138.6 1330.6 1139.1 1331.3 1139.4 1332.2Z"/>
<path class="l" d="M1114.6 1345.1 1123.7 1342.9 1123.7 1358.8 1127.1 1362.2 1130.5 1361 1132.8 1353.1 1139.6 1354.2 1140.8 1358.8 1137.3 1374.7 1132.8 1390.6"/>
<path class="l" d="M1114.6 1345.1 1113.5 1361 1116.9 1377 1119.2 1396.3"/>
<path class="l" d="M1098.7 1379.2 1104.4 1377 1110.1 1386.1 1119.2 1396.3 1137.3 1390.6 1139.6 1404.3 1121.4 1413.3 1119.2 1415.6 1098.7 1404.3 1098.7 1379.2"/>
<path class="l" d="M1104.4 1377 1105.5 1392.9 1120.3 1398.6"/>
<path class="l" d="M1120.3 1398.6 1121.4 1413.3"/>
<path class="l" d="M1104.4 1408.8 1103.2 1436.1 1111.2 1440.6 1112.3 1427 1116.9 1415.6 1121.4 1413.3"/>
<path class="l" d="M1130.5 1411.1 1137.3 1422.4 1144.2 1433.8 1146.4 1454.3 1140.8 1456.6 1133.9 1452 1132.8 1436.1 1126 1422.4"/>
<path class="l" d="M1133.5 1399.3 1133.2 1400 1132.8 1400.6 1132.3 1401 1131.7 1401.4 1131.2 1401.5 1130.6 1401.4 1130.2 1401.1 1129.8 1400.7 1129.6 1400.1 1129.5 1399.4 1129.6 1398.6 1129.8 1397.9 1130.1 1397.2 1130.5 1396.6 1131.1 1396.1 1131.6 1395.8 1132.2 1395.7 1132.7 1395.7 1133.1 1396 1133.5 1396.5 1133.7 1397.1 1133.8 1397.8 1133.7 1398.5 1133.5 1399.3Z"/>
<path class="l" d="M1348.8 1179.1 1357.9 1171.2 1371.6 1167.8 1382.9 1174.6 1386.4 1188.2 1382.9 1197.3 1373.8 1207.5 1364.7 1206.4 1353.4 1197.3 1348.8 1185.9 1348.8 1179.1"/>
<path class="l" d="M1371.6 1167.8 1376.1 1176.9 1386.4 1188.2"/>
<path class="l" d="M1376.1 1176.9 1382.9 1197.3"/>
<path class="l" d="M1370.2 1185.7 1371 1187.9 1371.4 1190.1 1371.3 1192.2 1370.8 1194 1369.8 1195.4 1368.6 1196.4 1367 1196.8 1365.3 1196.6 1363.6 1195.8 1361.9 1194.5 1360.5 1192.8 1359.3 1190.8 1358.5 1188.6 1358.1 1186.3 1358.2 1184.2 1358.7 1182.4 1359.7 1181 1360.9 1180.1 1362.5 1179.7 1364.2 1179.9 1365.9 1180.7 1367.6 1181.9 1369 1183.7 1370.2 1185.7Z"/>
<path class="l" d="M1367.9 1187.4 1368.4 1188.8 1368.7 1190.1 1368.6 1191.4 1368.3 1192.5 1367.8 1193.3 1367.1 1193.9 1366.2 1194.1 1365.2 1194 1364.1 1193.5 1363.2 1192.7 1362.3 1191.6 1361.6 1190.4 1361.1 1189 1360.8 1187.7 1360.9 1186.4 1361.1 1185.3 1361.7 1184.5 1362.4 1183.9 1363.3 1183.7 1364.3 1183.8 1365.3 1184.3 1366.3 1185.1 1367.2 1186.2 1367.9 1187.4Z"/>
<path class="l" d="M637.7 1366.6L1020 1289.4"/>
<path class="l" d="M360 1292 359.7 1293.3 358.7 1294.5 357.1 1295.5 355 1296.3 352.6 1296.8 350 1297 347.4 1296.8 345 1296.3 342.9 1295.5 341.3 1294.5 340.3 1293.3 340 1292 340.3 1290.7 341.3 1289.5 342.9 1288.5 345 1287.7 347.4 1287.2 350 1287 352.6 1287.2 355 1287.7 357.1 1288.5 358.7 1289.5 359.7 1290.7 360 1292Z"/>
<path class="l" d="M340 1292 341 1303 345 1305 355 1305 359 1303 360 1292"/>
<path class="l" d="M344.5 1304 344.2 1443 347 1445 352 1445 355 1443 354.8 1304"/>
<path class="l" d="M346 1297 354 1297"/>
<path class="l" d="M344.5 1417 C345.3 1417.2 347.8 1418.5 349.5 1418.5 C351.2 1418.5 353.9 1417.2 354.8 1417"/>
<path class="l" d="M344.5 1420 C345.3 1420.2 347.8 1421.5 349.5 1421.5 C351.2 1421.5 353.9 1420.2 354.8 1420"/>
<path class="l" d="M344.5 1423 C345.3 1423.2 347.8 1424.5 349.5 1424.5 C351.2 1424.5 353.9 1423.2 354.8 1423"/>
<path class="l" d="M344.5 1426 C345.3 1426.2 347.8 1427.5 349.5 1427.5 C351.2 1427.5 353.9 1426.2 354.8 1426"/>
<path class="l" d="M344.5 1429 C345.3 1429.2 347.8 1430.5 349.5 1430.5 C351.2 1430.5 353.9 1429.2 354.8 1429"/>
<path class="l" d="M344.5 1432 C345.3 1432.2 347.8 1433.5 349.5 1433.5 C351.2 1433.5 353.9 1432.2 354.8 1432"/>
<path class="l" d="M344.5 1435 C345.3 1435.2 347.8 1436.5 349.5 1436.5 C351.2 1436.5 353.9 1435.2 354.8 1435"/>
<path class="l" d="M344.5 1438 C345.3 1438.2 347.8 1439.5 349.5 1439.5 C351.2 1439.5 353.9 1438.2 354.8 1438"/>
<path class="l" d="M344.5 1441 C345.3 1441.2 347.8 1442.5 349.5 1442.5 C351.2 1442.5 353.9 1441.2 354.8 1441"/>
<!-- 23_309A.svg -->
<path class="l" d="M1934.1 1173.3 C1937.6 1174.9 1948.8 1177.6 1955.1 1182.6 C1961.3 1187.7 1967.5 1196.2 1971.4 1203.6 C1975.3 1211 1977.2 1219.5 1978.4 1226.9 C1979.5 1234.3 1979.1 1241.7 1978.4 1247.9 C1977.6 1254.1 1975.6 1259.6 1973.7 1264.2 C1971.8 1268.9 1967.9 1273.9 1966.7 1275.9"/>
<path class="l" d="M1831.5 1222.3 C1832.7 1219.5 1835 1210.2 1838.5 1205.9 C1842 1201.7 1847.1 1198.8 1852.5 1196.6 C1857.9 1194.5 1864.9 1192.7 1871.1 1193.1 C1877.4 1193.5 1884.4 1195.3 1889.8 1199 C1895.2 1202.6 1899.9 1209.1 1903.8 1215.3 C1907.7 1221.5 1911.2 1229.6 1913.1 1236.2 C1915 1242.9 1915.4 1249.5 1915.4 1254.9 C1915.4 1260.3 1913.5 1266.6 1913.1 1268.9"/>
<path class="l" d="M1836.2 1219.9 C1837.3 1217.6 1839.7 1209.4 1843.2 1205.9 C1846.7 1202.4 1851.7 1200.3 1857.2 1199 C1862.6 1197.6 1870 1196.6 1875.8 1197.8 C1881.6 1199 1887.5 1201.5 1892.1 1205.9 C1896.8 1210.4 1900.7 1217.6 1903.8 1224.6 C1906.9 1231.6 1909.8 1240.9 1910.8 1247.9 C1911.7 1254.9 1909.8 1263.4 1909.6 1266.6"/>
<path class="l" d="M1971.4 1268.9 C1973.3 1268.9 1977.2 1266.9 1983 1268.9 C1988.9 1270.8 1999.3 1275.5 2006.3 1280.5 C2013.3 1285.6 2019.5 1293 2025 1299.2 C2030.4 1305.4 2036.6 1314.7 2039 1317.8"/>
<path class="l" d="M1752.3 1348.1 C1755.8 1347.4 1763.9 1342.7 1773.2 1343.5 C1782.6 1344.3 1796.6 1349.3 1808.2 1352.8 C1819.9 1356.3 1837.3 1362.5 1843.2 1364.5"/>
<path class="l" d="M1698.6 1400.1 C1701.4 1396.9 1708 1385.2 1715 1380.8 C1722 1376.4 1731.7 1374.6 1740.6 1373.8 C1749.5 1373 1759.3 1374.2 1768.6 1376.1 C1777.9 1378 1788.8 1381.4 1796.6 1385.4 C1804.3 1389.4 1812.1 1397.7 1815.2 1400.1"/>
<path class="l" d="M2046 1352.8 C2046.2 1356.3 2047.5 1365.9 2047.1 1373.8 C2046.7 1381.7 2044.2 1395.7 2043.6 1400.1"/>
<path class="l" d="M1922.4 1348.1 C1924.6 1348.9 1930.6 1349.7 1935.2 1352.8 C1939.9 1355.9 1947.5 1361.7 1950.4 1366.8 C1953.3 1371.8 1952.3 1380.4 1952.7 1383.1"/>
<path class="l" d="M1838.5 1230.4 C1841.6 1230.4 1852.1 1228.7 1857.2 1230.4 C1862.2 1232.2 1866.9 1239.2 1868.8 1240.9"/>
<path class="l" d="M1857.2 1193.1 1934.1 1173.3 1950.4 1167.5 1971.4 1168.6 1977.2 1173.3"/>
<path class="l" d="M1977.2 1173.3 1980.7 1187.3 1983 1201.3 1983 1210.6 1986.5 1208.3 1987.7 1231.6 1985.4 1238.6 1997 1233.9 1992.4 1238.6 1973.7 1252.6 1971.4 1268.9"/>
<path class="l" d="M1952.7 1178 1962.1 1178 1976 1174.5"/>
<path class="l" d="M1959.7 1180.3 1971.4 1203.6"/>
<path class="l" d="M1908.4 1294.5 1966.7 1275.9 1973.7 1268.9"/>
<path class="l" d="M1838.5 1224.6 1864.1 1197.8 1885.1 1224.6 1840.8 1226.9 1838.5 1224.6"/>
<path class="l" d="M1864.1 1197.8 1864.1 1219.9 1885.1 1224.6"/>
<path class="l" d="M1852.5 1219.9 1864.1 1219.9"/>
<path class="l" d="M1854.8 1236.2 1894.5 1229.3 1896.8 1247.9"/>
<path class="l" d="M1782.6 1259.6 1789.6 1243.2 1801.2 1238.6 1808.2 1233.9 1829.2 1226.9"/>
<path class="l" d="M1803.5 1243.2 1819.9 1233.9 1843.2 1231.6 1859.5 1243.2"/>
<path class="l" d="M1803.5 1243.2 1807 1308.5 1815.2 1317.8 1840.8 1329.5 1861.8 1329.5 1864.1 1327.2"/>
<path class="l" d="M1838.5 1252.6 1840.8 1327.2"/>
<path class="l" d="M1845.5 1252.6 1850.2 1329.5"/>
<path class="l" d="M1859.5 1245.6 1863 1327.2"/>
<path class="l" d="M1838.5 1252.6 1859.5 1247.9"/>
<path class="l" d="M1889.8 1254.9 1903.8 1247.9 1913.1 1257.2 1910.8 1268.9 1899.1 1271.2 1889.8 1254.9"/>
<path class="l" d="M1873.5 1287.5 1907.3 1275.9 1908.4 1327.2 1874.6 1340 1873.5 1287.5"/>
<path class="l" d="M1875.8 1287.5 1877 1338.8"/>
<path class="l" d="M1726.6 1323.7 1803.5 1299.2"/>
<path class="l" d="M2025 1322.5 2039 1316.7 2057.6 1317.8 2066.9 1331.8 2064.6 1348.1 2048.3 1352.8 2034.3 1358.6 2032 1352.8 2046 1345.8 2043.6 1336.5 2029.7 1334.1 2025 1322.5"/>
<path class="l" d="M2053 1324.8 2055.3 1348.1"/>
<path class="l" d="M1971.4 1359.8 2053 1334.1"/>
<path class="l" d="M1726.6 1323.7 1730.1 1329.5 1752.3 1336.5 1810.5 1317.8"/>
<path class="l" d="M1752.3 1336.5 1753.4 1350.5 1756.9 1345.8"/>
<path class="l" d="M1756.9 1338.8 1810.5 1321.3"/>
<path class="l" d="M1889.8 1366.8 1948.1 1350.5"/>
<path class="l" d="M1948.1 1366.8 2053 1336.5"/>
<path class="l" d="M1829.2 1376.1 1864.1 1363.3 1892.1 1377.3 1892.1 1400.1"/>
<path class="l" d="M1831.5 1377.3 1833.8 1400.1"/>
<path class="l" d="M1852.5 1392.4 1854.8 1400.1"/>
<path class="l" d="M1729 1331.8 1727.8 1359.8 1738.3 1369.1 1742.9 1336.5"/>
<path class="l" d="M1727.8 1359.8 1715 1380.8"/>
<path class="l" d="M1908.4 1327.2 1927.1 1350.5 1935.2 1352.8"/>
<path class="l" d="M1907.3 1294.5 1983 1268.9"/>
<path class="l" d="M1801.7 1257.8 1795.3 1265.5 1785.5 1263.7 1782 1254.3 1788.5 1246.7 1798.3 1248.4Z"/>
<path class="l" d="M1796.4 1256.8 1796.3 1258.3 1795.8 1259.8 1795 1261 1793.9 1262 1792.7 1262.6 1791.4 1262.8 1790.1 1262.6 1788.9 1262 1787.9 1261 1787.1 1259.8 1786.6 1258.3 1786.4 1256.8 1786.6 1255.2 1787.1 1253.8 1787.9 1252.5 1788.9 1251.6 1790.1 1251 1791.4 1250.8 1792.7 1251 1793.9 1251.6 1795 1252.5 1795.8 1253.8 1796.3 1255.2 1796.4 1256.8Z"/>
<path class="l" d="M1882.9 1268.8 1875.5 1279.5 1862.5 1278.4 1857 1266.6 1864.5 1255.9 1877.4 1257.1Z"/>
<path class="l" d="M1870.8 1269.3 1870.6 1271.2 1870.1 1272.8 1869.2 1274.3 1868.1 1275.4 1866.7 1276.1 1865.3 1276.3 1863.9 1276.1 1862.6 1275.4 1861.4 1274.3 1860.6 1272.8 1860 1271.2 1859.8 1269.3 1860 1267.5 1860.6 1265.8 1861.4 1264.4 1862.6 1263.3 1863.9 1262.6 1865.3 1262.3 1866.7 1262.6 1868.1 1263.3 1869.2 1264.4 1870.1 1265.8 1870.6 1267.5 1870.8 1269.3Z"/>
<path class="l" d="M1832.1 1289.8 1833 1293.3 1833.1 1296.8 1832.6 1300.1 1831.3 1303 1829.4 1305.1 1827 1306.5 1824.3 1307 1821.4 1306.5 1818.6 1305.2 1816 1303 1813.9 1300.2 1812.3 1296.9 1811.4 1293.4 1811.3 1289.9 1811.8 1286.6 1813.1 1283.8 1815 1281.6 1817.4 1280.2 1820.1 1279.7 1823 1280.2 1825.8 1281.5 1828.3 1283.7 1830.5 1286.5 1832.1 1289.8Z"/>
<path class="l" d="M1830.2 1291.1 1830.9 1293.9 1831 1296.6 1830.6 1299.2 1829.7 1301.4 1828.2 1303.1 1826.4 1304.2 1824.3 1304.5 1822.2 1304.1 1820 1303.1 1818 1301.4 1816.4 1299.1 1815.1 1296.6 1814.4 1293.8 1814.3 1291 1814.7 1288.4 1815.6 1286.2 1817.1 1284.5 1818.9 1283.5 1821 1283.1 1823.2 1283.5 1825.3 1284.6 1827.3 1286.3 1828.9 1288.5 1830.2 1291.1Z"/>
<path class="l" d="M1762.1 1323.6 1762 1324.9 1761.2 1326.2 1759.8 1327.5 1757.9 1328.7 1755.6 1329.6 1753.1 1330.2 1750.6 1330.5 1748.1 1330.4 1745.9 1330 1744.2 1329.3 1743 1328.2 1742.4 1327 1742.5 1325.7 1743.3 1324.3 1744.7 1323 1746.6 1321.9 1748.9 1321 1751.4 1320.4 1754 1320.1 1756.4 1320.2 1758.6 1320.6 1760.4 1321.3 1761.5 1322.3 1762.1 1323.6Z"/>
<path class="l" d="M1863.5 1377.9 1863.4 1379.2 1862.6 1380.6 1861.2 1381.9 1859.3 1383 1857 1383.9 1854.5 1384.5 1851.9 1384.8 1849.5 1384.7 1847.3 1384.3 1845.6 1383.6 1844.4 1382.6 1843.8 1381.3 1843.9 1380 1844.7 1378.6 1846.1 1377.3 1848 1376.2 1850.3 1375.3 1852.8 1374.7 1855.4 1374.4 1857.8 1374.5 1860 1374.9 1861.8 1375.6 1862.9 1376.7 1863.5 1377.9Z"/>
<path class="l" d="M1736 1443.4 1737.8 1447 1739.1 1450.8 1739.9 1454.7 1740.2 1458.6 1740 1462.6 1739.3 1466.4 1738.1 1470 1736.5 1473.4 1734.3 1476.5 1731.8 1479.2 1728.9 1481.5 1725.7 1483.3 1722.3 1484.7 1718.7 1485.5 1714.9 1485.8 1711.2 1485.6 1707.4 1484.8 1703.8 1483.5 1700.3 1481.7 1697 1479.5 1694.1 1476.8 1691.4 1473.8 1689.2 1470.4 1687.4 1466.8 1686.1 1463 1685.3 1459.1 1685 1455.2 1685.2 1451.2 1685.9 1447.4 1687.1 1443.8 1688.7 1440.4 1690.9 1437.3 1693.4 1434.6 1696.3 1432.3 1699.5 1430.5 1702.9 1429.1 1706.5 1428.3 1710.3 1428 1714 1428.2 1717.8 1429 1721.4 1430.3 1724.9 1432.1 1728.2 1434.3 1731.1 1437 1733.8 1440 1736 1443.4Z"/>
<path class="l" d="M1717.2 1452.3 1718.6 1456 1719.3 1459.9 1719.3 1463.7 1718.6 1467.2 1717.2 1470.3 1715.1 1472.9 1712.6 1474.8 1709.7 1475.9 1706.5 1476.2 1703.2 1475.7 1699.9 1474.4 1696.9 1472.3 1694.1 1469.6 1691.9 1466.3 1690.2 1462.7 1689.2 1458.9 1688.8 1455 1689.2 1451.3 1690.3 1448 1692 1445.1 1694.3 1442.8 1697 1441.3 1700.1 1440.6 1703.3 1440.7 1706.6 1441.7 1709.8 1443.4 1712.7 1445.8 1715.3 1448.8 1717.2 1452.3Z"/>
<path class="l" d="M1716.3 1453.3 1717.7 1457.2 1718.3 1461.2 1718 1465 1717 1468.4 1715.1 1471.2 1712.7 1473.2 1709.7 1474.3 1706.5 1474.4 1703.2 1473.5 1699.9 1471.7 1697 1469 1694.6 1465.7 1692.9 1462 1691.9 1458 1691.7 1454.1 1692.4 1450.4 1693.9 1447.3 1696 1444.9 1698.8 1443.3 1701.9 1442.7 1705.2 1443.1 1708.5 1444.5 1711.6 1446.8 1714.2 1449.8 1716.3 1453.3Z"/>
<path class="l" d="M1691.7 1431.3 C1692 1427.4 1692 1413.8 1694 1408 C1695.9 1402.1 1697.9 1399.4 1703.3 1396.3 C1708.7 1393.2 1718.1 1389.7 1726.6 1389.3 C1735.2 1388.9 1745.3 1390.1 1754.6 1394 C1763.9 1397.9 1774.4 1406.4 1782.6 1412.6 C1790.7 1418.9 1798.3 1425.8 1803.5 1431.3 C1808.8 1436.7 1812.3 1442.9 1814 1445.3"/>
<path class="l" d="M1701 1401 C1705.3 1400.4 1718.5 1396.7 1726.6 1397.5 C1734.8 1398.3 1742.9 1401.2 1749.9 1405.6 C1756.9 1410.1 1763.9 1416.9 1768.6 1424.3 C1773.2 1431.7 1776 1443.3 1777.9 1449.9 C1779.8 1456.5 1779.8 1461.6 1780.2 1463.9"/>
<path class="l" d="M1701 1426.6 C1702.9 1426.4 1708 1424.3 1712.6 1425.5 C1717.3 1426.6 1724.7 1429.5 1729 1433.6 C1733.2 1437.7 1736.5 1444.1 1738.3 1449.9 C1740 1455.8 1740.2 1463.1 1739.4 1468.6 C1738.7 1474 1734.6 1480.2 1733.6 1482.6"/>
<path class="l" d="M1740.6 1489.6 C1746.8 1493.1 1767.8 1506.3 1777.9 1510.5 C1788 1514.8 1795.8 1516 1801.2 1515.2 C1806.7 1514.4 1809 1507.4 1810.5 1505.9"/>
<path class="l" d="M1943.4 1394 C1943 1399.4 1942.6 1418.1 1941.1 1426.6 C1939.5 1435.2 1937.2 1440.2 1934.1 1445.3 C1931 1450.3 1924.4 1455 1922.4 1456.9"/>
<path class="l" d="M2043.6 1380 C2041.7 1383.5 2035.1 1395.9 2032 1401 C2028.9 1406 2026.2 1408.7 2025 1410.3"/>
<path class="l" d="M1768.6 1466.2 1812.9 1448.8 1824.5 1454.6 1815.2 1482.6 1780.2 1494.2 1719.6 1482.6"/>
<path class="l" d="M1782.6 1463.9 1791.9 1468.6 1789.6 1494.2"/>
<path class="l" d="M1810.5 1456.9 1805.9 1484.9"/>
<path class="l" d="M1708 1484.9 1709.1 1494.2 1726.6 1503.5 1747.6 1498.9"/>
<path class="l" d="M1726.6 1484.9 1725.5 1503.5"/>
<path class="l" d="M1810.5 1505.9 1801.2 1547.8 1824.5 1561.8 1864.1 1543.2 1878.1 1447.6"/>
<path class="l" d="M1847.8 1412.6 1838.5 1461.6 1822.2 1561.8"/>
<path class="l" d="M1836.2 1463.9 1878.1 1447.6"/>
<path class="l" d="M1847.8 1463.9 1831.5 1561.8"/>
<path class="l" d="M1851.3 1410.3 1889.8 1398.6"/>
<path class="l" d="M1878.1 1447.6 1942.2 1416.1"/>
<path class="l" d="M1873.5 1480.2 1922.4 1459.3"/>
<path class="l" d="M1873.5 1488.4 1922.4 1468.6 2025 1410.3"/>
<path class="l" d="M1922.4 1459.3 1922.4 1468.6"/>
<path class="l" d="M1819.9 1382.3 1826.9 1412.6 1831.5 1380"/>
<path class="l" d="M1927.1 1389.3 1929.4 1401 1952.7 1389.3"/>
<path class="l" d="M1918.7 1438.3 1918.1 1439.7 1917.3 1441 1916.3 1441.9 1915.3 1442.6 1914.3 1442.9 1913.4 1442.7 1912.6 1442.2 1912 1441.4 1911.7 1440.2 1911.6 1438.9 1911.7 1437.4 1912.1 1435.9 1912.8 1434.5 1913.6 1433.3 1914.6 1432.3 1915.6 1431.6 1916.6 1431.4 1917.5 1431.5 1918.3 1432 1918.9 1432.8 1919.2 1434 1919.3 1435.3 1919.1 1436.8 1918.7 1438.3Z"/>
<!-- 24_309E.svg -->
<path class="l" d="M1887.5 1892.3 C1892.8 1892.8 1907.7 1891.2 1919.4 1895.5 C1931 1899.7 1945.9 1908.2 1957.6 1917.8 C1969.2 1927.3 1980.4 1939.5 1989.4 1952.8 C1998.4 1966 2006.4 1983.6 2011.7 1997.3 C2017 2011.1 2019.6 2022.8 2021.2 2035.6 C2022.8 2048.3 2022.3 2064.2 2021.2 2073.8 C2020.2 2083.3 2015.9 2089.7 2014.9 2092.9"/>
<path class="l" d="M1884.3 1894.8 C1889.1 1895.6 1901.8 1894.8 1913 1899.3 C1924.1 1903.7 1939.5 1912 1951.2 1921.6 C1962.9 1931.1 1974 1943.9 1983 1956.6 C1992 1969.3 1999.8 1984.8 2005.3 1998 C2010.8 2011.1 2013.8 2025 2015.8 2035.6 C2017.8 2046.1 2017.1 2056.8 2017.4 2061"/>
<path class="l" d="M2018 2054.7 C2017 2062.1 2015.4 2087.6 2011.7 2099.2 C2008 2110.9 2000.5 2121 1995.8 2124.7 C1991 2128.4 1985.1 2122 1983 2121.5"/>
<path class="l" d="M1648.7 2029.2 C1655.1 2031.3 1674.7 2035.6 1686.9 2041.9 C1699.1 2048.3 1710.8 2055.7 1722 2067.4 C1733.1 2079.1 1745.3 2097.1 1753.8 2112 C1762.3 2126.8 1768.9 2143.8 1772.9 2156.5 C1776.9 2169.3 1777.7 2177.8 1777.7 2188.4 C1777.7 2199 1776.3 2211.7 1772.9 2220.2 C1769.5 2228.7 1764.4 2234 1757 2239.3 C1749.6 2244.6 1742.7 2249.7 1728.3 2252 C1714 2254.4 1687.5 2255.2 1671 2253.6 C1654.6 2252 1636.5 2244.3 1629.6 2242.5"/>
<path class="l" d="M1651.9 2034 C1657.8 2036.1 1675.8 2040.3 1686.9 2046.7 C1698.1 2053.1 1708.4 2060.8 1718.8 2072.2 C1729.1 2083.6 1740.8 2100.8 1749 2115.1 C1757.2 2129.5 1764.1 2145.9 1768.1 2158.1 C1772.1 2170.3 1772.9 2178.3 1772.9 2188.4 C1772.9 2198.5 1771.3 2210.7 1768.1 2218.6 C1764.9 2226.6 1756.2 2233.2 1753.8 2236.1"/>
<path class="l" d="M1499.1 2067.4 C1501.8 2063.1 1510.8 2047.2 1515 2041.9 C1519.3 2036.6 1516.6 2039.8 1524.6 2035.6 C1532.5 2031.3 1554.3 2020.4 1562.8 2016.5 C1571.3 2012.5 1568.1 2012.7 1575.5 2011.7 C1582.9 2010.6 1596.7 2007.7 1607.3 2010.1 C1618 2012.5 1632.3 2022.8 1639.2 2026 C1646.1 2029.2 1647.1 2028.7 1648.7 2029.2"/>
<path class="l" d="M1499.1 2067.4 C1500.4 2073.2 1507.1 2093.9 1507.1 2102.4 C1507.1 2110.9 1501.2 2104 1499.1 2118.3 C1497 2132.7 1494.3 2175.1 1494.3 2188.4 C1494.3 2201.6 1498.3 2190 1499.1 2197.9 C1499.9 2205.9 1495.9 2226.6 1499.1 2236.1 C1502.3 2245.7 1511.8 2251.2 1518.2 2255.2 C1524.6 2259.2 1534.1 2259.2 1537.3 2260"/>
<path class="l" d="M1505.5 2073.8 C1507.6 2069.5 1509.2 2056.8 1518.2 2048.3 C1527.2 2039.8 1548.4 2028.4 1559.6 2022.8 C1570.7 2017.2 1576 2015.9 1585.1 2014.9 C1594.1 2013.8 1603.6 2013.8 1613.7 2016.5 C1623.8 2019.1 1640.2 2028.4 1645.6 2030.8"/>
<path class="l" d="M1505.5 2073.8 C1506.8 2078.5 1513.4 2094.5 1513.4 2102.4 C1513.4 2110.4 1507.6 2107.2 1505.5 2121.5 C1503.3 2135.8 1500.7 2175.1 1500.7 2188.4 C1500.7 2201.6 1504.7 2193.1 1505.5 2201.1 C1506.3 2209.1 1505.5 2230.3 1505.5 2236.1"/>
<path class="l" d="M1585.1 2121.5 C1589.8 2120.5 1603.6 2114.6 1613.7 2115.1 C1623.8 2115.7 1636 2118.9 1645.6 2124.7 C1655.1 2130.5 1665.2 2140.6 1671 2150.2 C1676.9 2159.7 1679.5 2170.9 1680.6 2182 C1681.6 2193.1 1681.1 2208.5 1677.4 2217 C1673.7 2225.5 1666.2 2228.7 1658.3 2232.9 C1650.3 2237.2 1634.4 2240.9 1629.6 2242.5"/>
<path class="l" d="M1580.3 2124.7 C1585.9 2123.6 1603.4 2117.8 1613.7 2118.3 C1624.1 2118.9 1633.6 2122 1642.4 2127.9 C1651.1 2133.7 1660.7 2143.8 1666.2 2153.3 C1671.8 2162.9 1674.7 2174.6 1675.8 2185.2 C1676.9 2195.8 1676.3 2209.1 1672.6 2217 C1668.9 2225 1656.7 2230.3 1653.5 2232.9"/>
<path class="l" d="M1620.1 2099.2 C1626.5 2096.3 1647.7 2084.4 1658.3 2081.7 C1668.9 2079.1 1676.3 2080.4 1683.8 2083.3 C1691.2 2086.2 1696.5 2091.3 1702.9 2099.2 C1709.2 2107.2 1717.2 2120.5 1722 2131.1 C1726.7 2141.7 1730.5 2152.3 1731.5 2162.9 C1732.6 2173.5 1732 2186.8 1728.3 2194.7 C1724.6 2202.7 1716.7 2206.9 1709.2 2210.7 C1701.8 2214.4 1688 2216 1683.8 2217"/>
<path class="l" d="M1629.6 2096 C1634.9 2095 1651.4 2089.1 1661.5 2089.7 C1671.6 2090.2 1682.2 2093.4 1690.1 2099.2 C1698.1 2105.1 1704.2 2115.1 1709.2 2124.7 C1714.3 2134.2 1720.6 2145.9 1720.4 2156.5 C1720.1 2167.1 1709.8 2183.1 1707.6 2188.4"/>
<path class="l" d="M1545.3 2038.7 C1548.2 2036.1 1554 2026 1562.8 2022.8 C1571.5 2019.6 1590.9 2019.1 1597.8 2019.6 C1604.7 2020.2 1603.4 2018.3 1604.2 2026 C1605 2033.7 1602.8 2059.2 1602.6 2065.8"/>
<path class="l" d="M1546.9 2080.1 C1547.9 2079.1 1551.4 2076.9 1553.2 2073.8 C1555.1 2070.6 1557.5 2065.3 1558 2061 C1558.5 2056.8 1558.5 2052 1556.4 2048.3 C1554.3 2044.6 1547.1 2040.3 1545.3 2038.7"/>
<path class="l" d="M1645.6 2026 1874.8 1895.5 1887.5 1892.3"/>
<path class="l" d="M1779.3 2185.2 2018 2054.7"/>
<path class="l" d="M1753.8 2242.5 1981.4 2115.1 1983 2121.5"/>
<path class="l" d="M1989.4 2010.1 2002.1 2003.7 2011.7 1997.3 2021.2 2003.7 2021.2 2013.3 2014.9 2016.5"/>
<path class="l" d="M1989.4 2010.1 1995.8 2038.7 2014.9 2029.2"/>
<path class="l" d="M1925.7 2143.8 1938.5 2137.4 1960.7 2134.2 1967.1 2156.5 1960.7 2169.3 1938.5 2172.5 1928.9 2166.1 1925.7 2143.8"/>
<path class="l" d="M1948 2140.6 1951.2 2169.3"/>
<path class="l" d="M1928.9 2153.3 1963.9 2150.2"/>
<path class="l" d="M1602.6 2065.8 1556.4 2081.7 1546.9 2080.1"/>
<path class="l" d="M1578.7 2019.6 1577.1 2105.6"/>
<path class="l" d="M1596.2 2021.2 1596.2 2064.2"/>
<path class="l" d="M1518.2 2134.2 1575.5 2107.2 1588.2 2102.4 1601 2107.2"/>
<path class="l" d="M1518.2 2134.2 1519.8 2175.6 1575.5 2147"/>
<path class="l" d="M1508.7 2150.2 1508.7 2172.5 1518.2 2175.6 1519.8 2150.2"/>
<path class="l" d="M1604.2 2026 1604.2 2105.6"/>
<path class="l" d="M1515 2207.5 1613.7 2162.9"/>
<path class="l" d="M1546.9 2255.2 1658.3 2204.3"/>
<path class="l" d="M1702.9 2108.8 1702.9 2118.3 1715.6 2115.1"/>
<path class="l" d="M1605.8 2229.8 1605.8 2239.3 1620.1 2236.1 1623.3 2242.5"/>
<path class="l" d="M1592.4 2142.9 1590.9 2132 1599.1 2131.6 1601.7 2142.5"/>
<path class="l" d="M1590.9 2132 1627.5 2115.4"/>
<path class="l" d="M1599.1 2131.6 1635.7 2115.1"/>
<path class="l" d="M1610 2144.3 1612.6 2134.7 1620.8 2138.7 1619.3 2148.9"/>
<path class="l" d="M1612.6 2134.7 1649.2 2118.1"/>
<path class="l" d="M1620.8 2138.7 1657.5 2122.1"/>
<path class="l" d="M1626.7 2154.7 1633 2148.2 1639.5 2155.8 1634.1 2163.3"/>
<path class="l" d="M1633 2148.2 1669.6 2131.7"/>
<path class="l" d="M1639.5 2155.8 1676.1 2139.2"/>
<path class="l" d="M1639.2 2171.9 1647.8 2169.9 1651.4 2179.5 1643.2 2182.8"/>
<path class="l" d="M1647.8 2169.9 1684.4 2153.3"/>
<path class="l" d="M1651.4 2179.5 1688 2162.9"/>
<path class="l" d="M1644.9 2192.4 1654.2 2195.3 1654 2205 1644.7 2203.4"/>
<path class="l" d="M1654.2 2195.3 1690.8 2178.7"/>
<path class="l" d="M1654 2205 1690.6 2188.4"/>
<path class="l" d="M1642.7 2212.1 1650.7 2219.3 1646.8 2227.1 1638.3 2220.9"/>
<path class="l" d="M1650.7 2219.3 1687.3 2202.8"/>
<path class="l" d="M1646.8 2227.1 1683.4 2210.6"/>
<path class="l" d="M1633 2227 1638.1 2237.1 1631.4 2241.4 1625.3 2231.9"/>
<path class="l" d="M1638.1 2237.1 1674.7 2220.5"/>
<path class="l" d="M1631.4 2241.4 1668 2224.8"/>
<path class="l" d="M1617.8 2234.1 1619 2245 1610.7 2245 1608.4 2234.1"/>
<path class="l" d="M1619 2245 1655.6 2228.4"/>
<path class="l" d="M1610.7 2245 1647.3 2228.4"/>
<path class="l" d="M1566 2147 C1568.6 2144.3 1573.9 2134.8 1581.9 2131.1 C1589.8 2127.3 1604.2 2124.2 1613.7 2124.7 C1623.3 2125.2 1631.8 2128.9 1639.2 2134.2 C1646.6 2139.6 1655.1 2152.8 1658.3 2156.5"/>
<path class="l" d="M1549.3 2227.6 1550.1 2231.5 1550.4 2235.4 1550.3 2239.3 1549.6 2243.1 1548.4 2246.6 1546.8 2249.7 1544.8 2252.5 1542.5 2254.9 1539.8 2256.7 1536.9 2257.9 1533.8 2258.6 1530.6 2258.7 1527.3 2258.1 1524.2 2257 1521.1 2255.3 1518.2 2253.1 1515.6 2250.4 1513.3 2247.3 1511.4 2243.9 1509.9 2240.2 1508.9 2236.4 1508.3 2232.4 1508.3 2228.5 1508.7 2224.7 1509.6 2221 1511 2217.7 1512.8 2214.7 1515 2212.1 1517.5 2210 1520.3 2208.5 1523.4 2207.5 1526.5 2207.2 1529.7 2207.4 1533 2208.2 1536.1 2209.6 1539.1 2211.6 1541.8 2214.1 1544.3 2217 1546.4 2220.2 1548.1 2223.8 1549.3 2227.6Z"/>
<path class="l" d="M1544.1 2229.2 1544.8 2233.1 1545 2237.1 1544.7 2240.9 1543.8 2244.5 1542.4 2247.7 1540.6 2250.5 1538.3 2252.7 1535.7 2254.3 1532.8 2255.3 1529.8 2255.5 1526.7 2255.1 1523.6 2253.9 1520.7 2252.2 1518 2249.8 1515.6 2246.9 1513.6 2243.5 1512 2239.9 1511 2236 1510.5 2232.1 1510.6 2228.2 1511.2 2224.5 1512.3 2221 1514 2218 1516 2215.5 1518.5 2213.6 1521.3 2212.3 1524.2 2211.7 1527.3 2211.8 1530.4 2212.6 1533.4 2214 1536.2 2216.1 1538.8 2218.8 1541 2221.9 1542.8 2225.4 1544.1 2229.2Z"/>
<path class="l" d="M1664.3 2049.3 1665 2051.8 1665.2 2054.4 1665 2056.7 1664.3 2058.7 1663.2 2060.2 1661.8 2061 1660.1 2061.3 1658.3 2060.9 1656.5 2059.8 1654.8 2058.1 1653.4 2056.1 1652.3 2053.6 1651.6 2051.1 1651.4 2048.6 1651.6 2046.2 1652.3 2044.3 1653.4 2042.8 1654.8 2041.9 1656.5 2041.7 1658.3 2042.1 1660.1 2043.2 1661.7 2044.8 1663.2 2046.9 1664.3 2049.3Z"/>
<path class="l" d="M1619.7 2077.9 1620.4 2080.5 1620.6 2083 1620.4 2085.4 1619.7 2087.3 1618.6 2088.8 1617.2 2089.7 1615.5 2089.9 1613.7 2089.5 1611.9 2088.4 1610.3 2086.8 1608.8 2084.7 1607.7 2082.3 1607 2079.7 1606.8 2077.2 1607 2074.9 1607.7 2072.9 1608.8 2071.4 1610.2 2070.6 1611.9 2070.3 1613.7 2070.7 1615.5 2071.8 1617.2 2073.5 1618.6 2075.5 1619.7 2077.9Z"/>
<path class="l" d="M1740.7 2111.4 1741.4 2113.9 1741.6 2116.5 1741.4 2118.8 1740.7 2120.8 1739.6 2122.2 1738.2 2123.1 1736.5 2123.4 1734.7 2122.9 1732.9 2121.9 1731.3 2120.2 1729.8 2118.1 1728.7 2115.7 1728 2113.2 1727.8 2110.7 1728 2108.3 1728.7 2106.4 1729.8 2104.9 1731.2 2104 1732.9 2103.7 1734.7 2104.2 1736.5 2105.2 1738.1 2106.9 1739.6 2109 1740.7 2111.4Z"/>
<path class="l" d="M1759.8 2202.1 1760.5 2204.7 1760.7 2207.2 1760.5 2209.5 1759.8 2211.5 1758.7 2213 1757.3 2213.9 1755.6 2214.1 1753.8 2213.7 1752 2212.6 1750.4 2211 1748.9 2208.9 1747.8 2206.5 1747.1 2203.9 1746.9 2201.4 1747.1 2199.1 1747.8 2197.1 1748.9 2195.6 1750.3 2194.7 1752 2194.5 1753.8 2194.9 1755.6 2196 1757.2 2197.6 1758.7 2199.7 1759.8 2202.1Z"/>
<path class="l" d="M1715.2 2232.4 1715.9 2234.9 1716.2 2237.4 1715.9 2239.8 1715.2 2241.7 1714.1 2243.2 1712.7 2244.1 1711 2244.3 1709.3 2243.9 1707.5 2242.8 1705.8 2241.2 1704.3 2239.1 1703.2 2236.7 1702.5 2234.2 1702.3 2231.6 1702.5 2229.3 1703.2 2227.3 1704.3 2225.9 1705.7 2225 1707.4 2224.7 1709.2 2225.2 1711 2226.2 1712.7 2227.9 1714.1 2230 1715.2 2232.4Z"/>
<path class="l" d="M1539.3 2065.9 1540.2 2069.1 1540.4 2072.3 1539.9 2075.3 1538.9 2077.8 1537.3 2079.8 1535.3 2080.9 1533 2081.3 1530.5 2080.9 1528.1 2079.6 1525.9 2077.6 1524 2075 1522.6 2072 1521.7 2068.8 1521.5 2065.6 1521.9 2062.7 1523 2060.1 1524.6 2058.2 1526.6 2057 1528.9 2056.6 1531.4 2057.1 1533.8 2058.4 1536 2060.4 1537.9 2062.9 1539.3 2065.9Z"/>
<path class="l" d="M1758 2150.1 1758.8 2153.3 1759 2156.5 1758.4 2159.5 1757.3 2162.1 1755.6 2164.1 1753.4 2165.3 1750.9 2165.8 1748.3 2165.3 1745.8 2164.1 1743.4 2162.2 1741.5 2159.6 1740 2156.6 1739.2 2153.4 1739.1 2150.2 1739.6 2147.2 1740.8 2144.6 1742.5 2142.6 1744.7 2141.4 1747.1 2140.9 1749.7 2141.4 1752.3 2142.6 1754.6 2144.5 1756.6 2147.1 1758 2150.1Z"/>
<path class="l" d="M1751 2153.6 1751.4 2155.1 1751.5 2156.5 1751.4 2157.8 1750.9 2159 1750.3 2159.8 1749.4 2160.3 1748.4 2160.5 1747.3 2160.3 1746.3 2159.7 1745.3 2158.8 1744.5 2157.6 1743.8 2156.2 1743.5 2154.8 1743.3 2153.4 1743.5 2152.1 1743.9 2150.9 1744.6 2150.1 1745.5 2149.6 1746.5 2149.4 1747.5 2149.6 1748.6 2150.2 1749.6 2151.1 1750.4 2152.3 1751 2153.6Z"/>
<!-- 25_1009A.svg -->
<path class="l" d="M1889 2357.6 1893.6 2353.5 1897.7 2353.5 1898.7 2355.1"/>
<path class="l" d="M1889 2357.6 1889.5 2365.3 1893.6 2366.8"/>
<path class="l" d="M1897.7 2354.1 1929.4 2367.9"/>
<path class="l" d="M1893.6 2366.8 1927.4 2383.2"/>
<path class="l" d="M1939.7 2367.9 1944.8 2368.9 1950.4 2377.1 1947.9 2389.4 1939.7 2395.5 1936.6 2391.4"/>
<path class="l" d="M1933.5 2373 1939.7 2367.9"/>
<path class="l" d="M1933.5 2373 1936.6 2391.4"/>
<path class="l" d="M1933.5 2373 1944.8 2378.1 1949.9 2377.1"/>
<path class="l" d="M1944.8 2378.1 1939.7 2395.5"/>
<path class="l" d="M1929.4 2367.9 C1930.1 2367.5 1931.8 2366.3 1933.5 2365.8 C1935.2 2365.4 1937.8 2364.8 1939.7 2365.3 C1941.5 2365.8 1943.9 2368.3 1944.8 2368.9"/>
<path class="l" d="M1927.4 2368.9 C1927 2370.1 1925.7 2373 1925.3 2376.1 C1925 2379.1 1924.5 2384.4 1925.3 2387.3 C1926.2 2390.2 1928.4 2392.3 1930.5 2393.5 C1932.5 2394.7 1936.4 2394.3 1937.6 2394.5"/>
<path class="l" d="M1929.4 2369.9 C1929.3 2371.3 1928.4 2375.2 1928.4 2378.1 C1928.4 2381 1928.4 2384.9 1929.4 2387.3 C1930.5 2389.7 1933.7 2391.6 1934.6 2392.4"/>
<path class="l" d="M1898.2 2354.6 C1897.7 2355.4 1895.7 2357.8 1895.1 2359.7 C1894.6 2361.6 1894.5 2364.5 1894.6 2365.8 C1894.8 2367.2 1895.9 2367.5 1896.2 2367.9"/>
<path class="l" d="M1903.1 2356.7 C1902.6 2357.6 1900.7 2360 1900.1 2361.8 C1899.5 2363.7 1899.4 2366.6 1899.5 2368 C1899.7 2369.3 1900.8 2369.7 1901.1 2370"/>
<path class="l" d="M1908 2358.9 C1907.5 2359.7 1905.6 2362.1 1905 2364 C1904.4 2365.9 1904.3 2368.8 1904.5 2370.1 C1904.6 2371.5 1905.7 2371.8 1906 2372.2"/>
<path class="l" d="M1913 2361 C1912.4 2361.9 1910.5 2364.3 1909.9 2366.1 C1909.3 2368 1909.2 2370.9 1909.4 2372.3 C1909.5 2373.6 1910.7 2374 1910.9 2374.3"/>
<path class="l" d="M1917.9 2363.2 C1917.4 2364 1915.4 2366.4 1914.8 2368.3 C1914.2 2370.2 1914.1 2373.1 1914.3 2374.4 C1914.5 2375.8 1915.6 2376.1 1915.8 2376.5"/>
<path class="l" d="M1922.8 2365.3 C1922.3 2366.2 1920.3 2368.6 1919.7 2370.4 C1919.1 2372.3 1919 2375.2 1919.2 2376.6 C1919.4 2377.9 1920.5 2378.3 1920.7 2378.6"/>
<path class="l" d="M1927.7 2367.5 C1927.2 2368.3 1925.2 2370.7 1924.6 2372.6 C1924 2374.5 1923.9 2377.4 1924.1 2378.7 C1924.3 2380.1 1925.4 2380.4 1925.6 2380.8"/>
</svg></body></html>
